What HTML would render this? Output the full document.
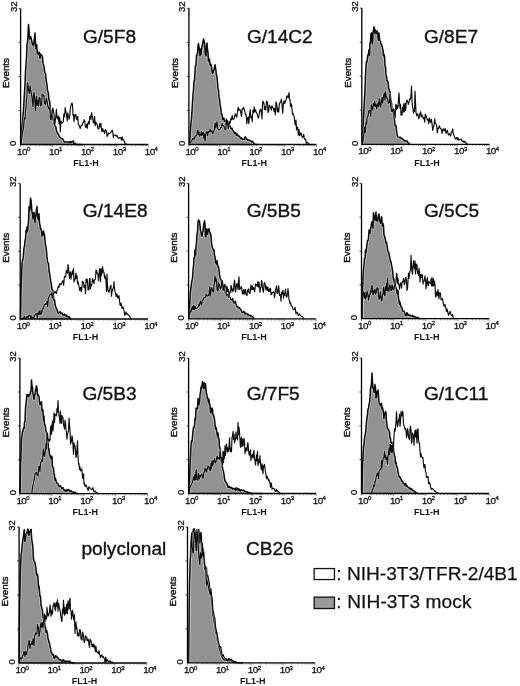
<!DOCTYPE html>
<html><head><meta charset="utf-8"><title>Figure</title>
<style>
html,body{margin:0;padding:0;background:#fff}
svg{display:block}
text{font-family:"Liberation Sans",Arial,sans-serif;fill:#111;stroke:#111;stroke-width:0.3px}
.tk{font-size:9.8px;letter-spacing:-0.5px}
.sup{font-size:6px;letter-spacing:0}
.fl{font-size:9px;font-weight:bold;stroke:none}
.yl{font-size:9.5px}
.ev{font-size:9.8px;stroke-width:0.4px}
.ti{font-size:19.1px;stroke-width:0.35px}
.lg{font-size:19.1px;stroke-width:0.25px}
</style></head><body>
<svg width="520" height="686" viewBox="0 0 520 686">
<rect width="520" height="686" fill="#fff"/>
<g>
<path d="M21.0 144.5 L21.5 134.1 L22.0 126.2 L22.5 122.5 L23.0 115.1 L23.5 110.1 L24.0 100.9 L24.5 91.4 L25.0 85.4 L25.5 71.1 L26.0 64.7 L26.5 56.9 L27.0 44.0 L27.5 42.3 L28.0 34.3 L28.5 24.6 L29.0 29.4 L29.5 39.0 L30.2 36.7 L30.8 36.8 L31.5 39.7 L32.2 43.0 L32.8 44.8 L33.5 45.6 L34.0 41.2 L34.5 37.7 L35.0 33.1 L35.5 44.0 L36.0 48.7 L36.7 44.6 L37.3 54.0 L38.0 52.0 L38.7 54.6 L39.3 52.4 L40.0 58.5 L40.7 54.1 L41.3 55.0 L42.0 55.8 L42.5 56.7 L43.0 63.9 L43.5 64.7 L44.2 67.7 L44.8 72.8 L45.5 73.4 L46.0 78.6 L46.5 82.1 L47.0 85.1 L47.7 91.5 L48.3 92.5 L49.0 99.9 L49.7 101.6 L50.3 108.2 L51.0 111.0 L51.7 115.2 L52.3 115.0 L53.0 119.1 L53.6 120.2 L54.1 124.2 L54.7 125.0 L55.2 126.1 L55.9 126.9 L56.5 130.7 L57.1 132.2 L57.8 134.1 L58.4 134.1 L59.0 135.9 L59.6 136.8 L60.2 137.3 L60.9 138.0 L61.5 138.6 L62.1 138.7 L62.8 139.0 L63.4 140.1 L64.0 141.1 L64.6 142.0 L65.2 141.9 L65.9 142.1 L66.5 142.0 L67.1 142.1 L67.8 142.0 L68.4 142.5 L69.0 142.5 L69.6 141.9 L70.2 141.5 L70.9 142.7 L71.5 141.6 L72.1 141.8 L72.8 141.2 L73.4 141.0 L74.0 143.4 L74.6 143.5 L75.2 143.4 L75.9 144.1 L76.5 144.5 L77.1 144.5 L77.8 144.5 L78.4 144.5 L79.0 144.5 L79.6 144.5 L80.2 144.5 L80.9 144.5 L81.5 144.5 Z" fill="#929292"/>
<path d="M21.0 144.5 L21.5 134.1 L22.0 126.2 L22.5 122.5 L23.0 115.1 L23.5 110.1 L24.0 100.9 L24.5 91.4 L25.0 85.4 L25.5 71.1 L26.0 64.7 L26.5 56.9 L27.0 44.0 L27.5 42.3 L28.0 34.3 L28.5 24.6 L29.0 29.4 L29.5 39.0 L30.2 36.7 L30.8 36.8 L31.5 39.7 L32.2 43.0 L32.8 44.8 L33.5 45.6 L34.0 41.2 L34.5 37.7 L35.0 33.1 L35.5 44.0 L36.0 48.7 L36.7 44.6 L37.3 54.0 L38.0 52.0 L38.7 54.6 L39.3 52.4 L40.0 58.5 L40.7 54.1 L41.3 55.0 L42.0 55.8 L42.5 56.7 L43.0 63.9 L43.5 64.7 L44.2 67.7 L44.8 72.8 L45.5 73.4 L46.0 78.6 L46.5 82.1 L47.0 85.1 L47.7 91.5 L48.3 92.5 L49.0 99.9 L49.7 101.6 L50.3 108.2 L51.0 111.0 L51.7 115.2 L52.3 115.0 L53.0 119.1 L53.6 120.2 L54.1 124.2 L54.7 125.0 L55.2 126.1 L55.9 126.9 L56.5 130.7 L57.1 132.2 L57.8 134.1 L58.4 134.1 L59.0 135.9 L59.6 136.8 L60.2 137.3 L60.9 138.0 L61.5 138.6 L62.1 138.7 L62.8 139.0 L63.4 140.1 L64.0 141.1 L64.6 142.0 L65.2 141.9 L65.9 142.1 L66.5 142.0 L67.1 142.1 L67.8 142.0 L68.4 142.5 L69.0 142.5 L69.6 141.9 L70.2 141.5 L70.9 142.7 L71.5 141.6 L72.1 141.8 L72.8 141.2 L73.4 141.0 L74.0 143.4 L74.6 143.5 L75.2 143.4 L75.9 144.1 L76.5 144.5 L77.1 144.5 L77.8 144.5 L78.4 144.5 L79.0 144.5 L79.6 144.5 L80.2 144.5 L80.9 144.5 L81.5 144.5" fill="none" stroke="#fff" stroke-opacity="0.4" stroke-width="3.2" stroke-linejoin="round"/>
<path d="M21.0 144.5 L21.5 134.1 L22.0 126.2 L22.5 122.5 L23.0 115.1 L23.5 110.1 L24.0 100.9 L24.5 91.4 L25.0 85.4 L25.5 71.1 L26.0 64.7 L26.5 56.9 L27.0 44.0 L27.5 42.3 L28.0 34.3 L28.5 24.6 L29.0 29.4 L29.5 39.0 L30.2 36.7 L30.8 36.8 L31.5 39.7 L32.2 43.0 L32.8 44.8 L33.5 45.6 L34.0 41.2 L34.5 37.7 L35.0 33.1 L35.5 44.0 L36.0 48.7 L36.7 44.6 L37.3 54.0 L38.0 52.0 L38.7 54.6 L39.3 52.4 L40.0 58.5 L40.7 54.1 L41.3 55.0 L42.0 55.8 L42.5 56.7 L43.0 63.9 L43.5 64.7 L44.2 67.7 L44.8 72.8 L45.5 73.4 L46.0 78.6 L46.5 82.1 L47.0 85.1 L47.7 91.5 L48.3 92.5 L49.0 99.9 L49.7 101.6 L50.3 108.2 L51.0 111.0 L51.7 115.2 L52.3 115.0 L53.0 119.1 L53.6 120.2 L54.1 124.2 L54.7 125.0 L55.2 126.1 L55.9 126.9 L56.5 130.7 L57.1 132.2 L57.8 134.1 L58.4 134.1 L59.0 135.9 L59.6 136.8 L60.2 137.3 L60.9 138.0 L61.5 138.6 L62.1 138.7 L62.8 139.0 L63.4 140.1 L64.0 141.1 L64.6 142.0 L65.2 141.9 L65.9 142.1 L66.5 142.0 L67.1 142.1 L67.8 142.0 L68.4 142.5 L69.0 142.5 L69.6 141.9 L70.2 141.5 L70.9 142.7 L71.5 141.6 L72.1 141.8 L72.8 141.2 L73.4 141.0 L74.0 143.4 L74.6 143.5 L75.2 143.4 L75.9 144.1 L76.5 144.5 L77.1 144.5 L77.8 144.5 L78.4 144.5 L79.0 144.5 L79.6 144.5 L80.2 144.5 L80.9 144.5 L81.5 144.5" fill="none" stroke="#0c0c0c" stroke-width="1.50" stroke-linejoin="round"/>
<path d="M21.0 144.5 L21.5 141.0 L22.0 135.6 L22.5 133.4 L23.0 130.3 L23.5 128.4 L24.0 121.8 L24.5 117.9 L25.0 119.2 L25.5 110.0 L26.0 108.0 L26.5 100.2 L27.0 93.4 L27.5 82.5 L28.0 85.7 L28.5 89.7 L29.0 92.3 L29.5 93.6 L30.0 85.8 L30.5 90.2 L31.0 90.8 L31.5 94.7 L32.0 97.4 L32.5 102.1 L33.0 106.5 L33.5 95.1 L34.0 92.3 L34.5 97.5 L35.0 102.6 L35.5 110.9 L36.0 100.8 L36.5 96.2 L37.2 105.4 L37.8 100.6 L38.5 106.2 L39.0 98.5 L39.5 97.3 L40.0 98.4 L40.5 105.9 L41.0 105.0 L41.5 105.2 L42.2 94.1 L42.8 95.8 L43.5 95.0 L44.0 96.1 L44.5 103.5 L45.0 103.0 L45.5 105.2 L46.0 100.5 L46.5 98.0 L47.2 101.9 L47.8 106.1 L48.5 108.4 L49.0 107.1 L49.5 109.7 L50.0 110.5 L50.5 119.3 L51.0 119.9 L51.5 115.8 L52.2 112.6 L52.8 108.1 L53.5 111.2 L54.1 115.1 L54.7 125.0 L55.2 121.3 L55.8 116.8 L56.4 109.4 L57.0 117.7 L57.7 119.1 L58.3 115.9 L59.0 123.7 L59.7 117.3 L60.3 132.0 L61.0 121.0 L61.6 123.2 L62.2 122.6 L62.8 122.6 L63.3 121.4 L63.9 113.8 L64.5 116.7 L65.2 107.6 L65.8 111.1 L66.5 115.0 L67.2 121.0 L67.8 112.8 L68.5 116.7 L69.1 119.1 L69.7 116.6 L70.2 109.7 L70.8 106.2 L71.4 104.1 L72.0 103.0 L72.5 105.0 L73.0 115.3 L73.5 114.4 L74.1 121.7 L74.7 114.9 L75.2 115.8 L75.8 114.4 L76.4 118.9 L77.0 119.6 L77.7 116.3 L78.3 124.8 L79.0 125.0 L79.6 126.6 L80.2 128.6 L80.9 126.1 L81.5 125.3 L82.2 125.4 L82.8 123.2 L83.5 122.3 L84.1 119.5 L84.8 121.2 L85.4 126.3 L86.0 127.4 L86.6 124.3 L87.2 128.3 L87.9 123.1 L88.5 121.6 L89.2 124.1 L89.8 116.7 L90.5 116.2 L91.0 119.4 L91.5 112.7 L92.0 115.2 L92.7 117.6 L93.3 122.6 L94.0 123.1 L94.6 116.6 L95.2 125.6 L95.9 122.2 L96.5 124.0 L97.1 124.1 L97.8 128.1 L98.4 129.1 L99.0 128.2 L99.6 123.5 L100.2 127.0 L100.9 123.1 L101.5 129.7 L102.1 131.5 L102.8 128.5 L103.4 131.3 L104.0 131.2 L104.6 133.7 L105.2 129.7 L105.9 130.0 L106.5 131.6 L107.1 136.5 L107.8 135.3 L108.4 132.9 L109.0 133.7 L109.6 133.4 L110.2 133.3 L110.9 132.1 L111.5 132.0 L112.1 130.1 L112.8 132.1 L113.4 137.6 L114.0 135.1 L114.6 135.2 L115.2 135.0 L115.9 135.8 L116.5 136.2 L117.1 135.4 L117.8 137.6 L118.4 138.3 L119.0 138.1 L119.6 137.6 L120.2 137.6 L120.9 137.9 L121.5 140.2 L122.1 136.8 L122.8 140.0 L123.4 139.9 L124.0 140.7 L124.6 142.0 L125.2 143.7 L125.9 143.7 L126.5 144.5 L127.1 144.5 L127.8 144.5 L128.4 144.5 L129.0 144.5" fill="none" stroke="#fff" stroke-opacity="0.4" stroke-width="2.6" stroke-linejoin="round"/>
<path d="M21.0 144.5 L21.5 141.0 L22.0 135.6 L22.5 133.4 L23.0 130.3 L23.5 128.4 L24.0 121.8 L24.5 117.9 L25.0 119.2 L25.5 110.0 L26.0 108.0 L26.5 100.2 L27.0 93.4 L27.5 82.5 L28.0 85.7 L28.5 89.7 L29.0 92.3 L29.5 93.6 L30.0 85.8 L30.5 90.2 L31.0 90.8 L31.5 94.7 L32.0 97.4 L32.5 102.1 L33.0 106.5 L33.5 95.1 L34.0 92.3 L34.5 97.5 L35.0 102.6 L35.5 110.9 L36.0 100.8 L36.5 96.2 L37.2 105.4 L37.8 100.6 L38.5 106.2 L39.0 98.5 L39.5 97.3 L40.0 98.4 L40.5 105.9 L41.0 105.0 L41.5 105.2 L42.2 94.1 L42.8 95.8 L43.5 95.0 L44.0 96.1 L44.5 103.5 L45.0 103.0 L45.5 105.2 L46.0 100.5 L46.5 98.0 L47.2 101.9 L47.8 106.1 L48.5 108.4 L49.0 107.1 L49.5 109.7 L50.0 110.5 L50.5 119.3 L51.0 119.9 L51.5 115.8 L52.2 112.6 L52.8 108.1 L53.5 111.2 L54.1 115.1 L54.7 125.0 L55.2 121.3 L55.8 116.8 L56.4 109.4 L57.0 117.7 L57.7 119.1 L58.3 115.9 L59.0 123.7 L59.7 117.3 L60.3 132.0 L61.0 121.0 L61.6 123.2 L62.2 122.6 L62.8 122.6 L63.3 121.4 L63.9 113.8 L64.5 116.7 L65.2 107.6 L65.8 111.1 L66.5 115.0 L67.2 121.0 L67.8 112.8 L68.5 116.7 L69.1 119.1 L69.7 116.6 L70.2 109.7 L70.8 106.2 L71.4 104.1 L72.0 103.0 L72.5 105.0 L73.0 115.3 L73.5 114.4 L74.1 121.7 L74.7 114.9 L75.2 115.8 L75.8 114.4 L76.4 118.9 L77.0 119.6 L77.7 116.3 L78.3 124.8 L79.0 125.0 L79.6 126.6 L80.2 128.6 L80.9 126.1 L81.5 125.3 L82.2 125.4 L82.8 123.2 L83.5 122.3 L84.1 119.5 L84.8 121.2 L85.4 126.3 L86.0 127.4 L86.6 124.3 L87.2 128.3 L87.9 123.1 L88.5 121.6 L89.2 124.1 L89.8 116.7 L90.5 116.2 L91.0 119.4 L91.5 112.7 L92.0 115.2 L92.7 117.6 L93.3 122.6 L94.0 123.1 L94.6 116.6 L95.2 125.6 L95.9 122.2 L96.5 124.0 L97.1 124.1 L97.8 128.1 L98.4 129.1 L99.0 128.2 L99.6 123.5 L100.2 127.0 L100.9 123.1 L101.5 129.7 L102.1 131.5 L102.8 128.5 L103.4 131.3 L104.0 131.2 L104.6 133.7 L105.2 129.7 L105.9 130.0 L106.5 131.6 L107.1 136.5 L107.8 135.3 L108.4 132.9 L109.0 133.7 L109.6 133.4 L110.2 133.3 L110.9 132.1 L111.5 132.0 L112.1 130.1 L112.8 132.1 L113.4 137.6 L114.0 135.1 L114.6 135.2 L115.2 135.0 L115.9 135.8 L116.5 136.2 L117.1 135.4 L117.8 137.6 L118.4 138.3 L119.0 138.1 L119.6 137.6 L120.2 137.6 L120.9 137.9 L121.5 140.2 L122.1 136.8 L122.8 140.0 L123.4 139.9 L124.0 140.7 L124.6 142.0 L125.2 143.7 L125.9 143.7 L126.5 144.5 L127.1 144.5 L127.8 144.5 L128.4 144.5 L129.0 144.5" fill="none" stroke="#0c0c0c" stroke-width="1.15" stroke-linejoin="round"/>
<path d="M20.6 8.4 V144.5 H148.2" fill="none" stroke="#000" stroke-width="1.3"/>
<path d="M20.6 8.4 h-2M20.6 42.4 h-2M20.6 76.5 h-2M20.6 110.5 h-2" stroke="#111" stroke-width="0.8"/>
<path d="M30.2 144.9 v1.3M35.8 144.9 v1.3M39.8 144.9 v1.3M42.9 144.9 v1.3M45.4 144.9 v1.3M47.6 144.9 v1.3M49.4 144.9 v1.3M51.0 144.9 v1.3M62.1 144.9 v1.3M67.7 144.9 v1.3M71.7 144.9 v1.3M74.8 144.9 v1.3M77.3 144.9 v1.3M79.5 144.9 v1.3M81.3 144.9 v1.3M82.9 144.9 v1.3M94.0 144.9 v1.3M99.6 144.9 v1.3M103.6 144.9 v1.3M106.7 144.9 v1.3M109.2 144.9 v1.3M111.4 144.9 v1.3M113.2 144.9 v1.3M114.8 144.9 v1.3M125.9 144.9 v1.3M131.5 144.9 v1.3M135.5 144.9 v1.3M138.6 144.9 v1.3M141.1 144.9 v1.3M143.3 144.9 v1.3M145.1 144.9 v1.3M146.7 144.9 v1.3M20.6 144.9 v2M52.5 144.9 v2M84.4 144.9 v2M116.3 144.9 v2M148.2 144.9 v2" stroke="#222" stroke-width="0.5"/>
<text x="17.1" y="154.6" class="tk">10<tspan dx="0" dy="-3.4" class="sup">0</tspan></text>
<text x="49.0" y="154.6" class="tk">10<tspan dx="0" dy="-3.4" class="sup">1</tspan></text>
<text x="80.9" y="154.6" class="tk">10<tspan dx="0" dy="-3.4" class="sup">2</tspan></text>
<text x="112.8" y="154.6" class="tk">10<tspan dx="0" dy="-3.4" class="sup">3</tspan></text>
<text x="144.7" y="154.6" class="tk">10<tspan dx="0" dy="-3.4" class="sup">4</tspan></text>
<text x="85.9" y="165.7" class="fl" text-anchor="middle">FL1-H</text>
<text transform="translate(16.6 12.1) rotate(-90)" class="yl">32</text>
<text transform="translate(16.3 146.1) rotate(-90)" class="yl">0</text>
<text transform="translate(9.4 73.0) rotate(-90)" class="ev" text-anchor="middle">Events</text>
<text x="82.95" y="42.8" class="ti">G/5F8</text>
</g>
<g>
<path d="M189.5 144.5 L190.0 136.4 L190.5 128.2 L191.0 122.5 L191.5 118.4 L192.0 110.7 L192.5 102.0 L193.0 94.9 L193.5 90.1 L194.0 80.9 L194.5 80.5 L195.0 71.3 L195.5 65.3 L196.0 65.3 L196.5 55.3 L197.0 55.4 L197.5 52.7 L198.0 45.5 L198.5 43.6 L199.0 46.9 L199.5 52.0 L200.0 55.8 L200.5 48.9 L201.0 54.6 L201.5 49.4 L202.0 46.4 L202.5 44.1 L203.0 41.8 L203.5 38.9 L204.0 40.7 L204.5 42.9 L205.0 50.3 L205.5 55.0 L206.0 55.9 L206.5 45.6 L207.0 43.1 L207.5 49.7 L208.0 52.5 L208.5 61.6 L209.0 59.4 L209.5 59.0 L210.0 64.6 L210.5 65.5 L211.0 64.4 L211.5 67.0 L212.0 70.3 L212.5 73.5 L213.0 72.6 L213.5 70.1 L214.0 69.9 L214.5 66.9 L215.0 64.7 L215.5 67.5 L216.0 71.2 L216.5 75.5 L217.0 77.0 L217.5 82.2 L218.0 88.8 L218.5 89.9 L219.0 97.6 L219.5 98.5 L220.0 103.8 L220.5 106.6 L221.0 110.6 L221.5 114.3 L222.1 114.5 L222.7 119.5 L223.2 118.1 L223.8 117.8 L224.4 121.3 L225.0 120.4 L225.7 121.3 L226.3 124.0 L227.0 124.1 L227.7 120.5 L228.3 123.4 L229.0 123.2 L229.6 126.1 L230.2 126.1 L230.8 128.2 L231.4 128.8 L232.0 128.3 L232.6 130.1 L233.2 130.9 L233.9 131.5 L234.5 133.6 L235.1 132.6 L235.8 133.0 L236.4 135.2 L237.0 133.7 L237.6 134.9 L238.2 136.0 L238.9 136.2 L239.5 136.1 L240.1 137.3 L240.8 138.6 L241.4 137.8 L242.0 138.4 L242.6 139.6 L243.2 139.2 L243.9 139.3 L244.5 139.2 L245.1 136.7 L245.8 137.8 L246.4 138.5 L247.0 139.3 L247.6 140.3 L248.2 139.9 L248.9 139.9 L249.5 140.4 L250.1 140.6 L250.8 141.1 L251.4 141.7 L252.0 141.4 L252.6 141.5 L253.2 142.1 L253.9 143.3 L254.5 143.8 L255.1 144.2 L255.8 144.5 L256.4 144.5 L257.0 144.5 L257.6 144.5 L258.2 144.5 Z" fill="#929292"/>
<path d="M189.5 144.5 L190.0 136.4 L190.5 128.2 L191.0 122.5 L191.5 118.4 L192.0 110.7 L192.5 102.0 L193.0 94.9 L193.5 90.1 L194.0 80.9 L194.5 80.5 L195.0 71.3 L195.5 65.3 L196.0 65.3 L196.5 55.3 L197.0 55.4 L197.5 52.7 L198.0 45.5 L198.5 43.6 L199.0 46.9 L199.5 52.0 L200.0 55.8 L200.5 48.9 L201.0 54.6 L201.5 49.4 L202.0 46.4 L202.5 44.1 L203.0 41.8 L203.5 38.9 L204.0 40.7 L204.5 42.9 L205.0 50.3 L205.5 55.0 L206.0 55.9 L206.5 45.6 L207.0 43.1 L207.5 49.7 L208.0 52.5 L208.5 61.6 L209.0 59.4 L209.5 59.0 L210.0 64.6 L210.5 65.5 L211.0 64.4 L211.5 67.0 L212.0 70.3 L212.5 73.5 L213.0 72.6 L213.5 70.1 L214.0 69.9 L214.5 66.9 L215.0 64.7 L215.5 67.5 L216.0 71.2 L216.5 75.5 L217.0 77.0 L217.5 82.2 L218.0 88.8 L218.5 89.9 L219.0 97.6 L219.5 98.5 L220.0 103.8 L220.5 106.6 L221.0 110.6 L221.5 114.3 L222.1 114.5 L222.7 119.5 L223.2 118.1 L223.8 117.8 L224.4 121.3 L225.0 120.4 L225.7 121.3 L226.3 124.0 L227.0 124.1 L227.7 120.5 L228.3 123.4 L229.0 123.2 L229.6 126.1 L230.2 126.1 L230.8 128.2 L231.4 128.8 L232.0 128.3 L232.6 130.1 L233.2 130.9 L233.9 131.5 L234.5 133.6 L235.1 132.6 L235.8 133.0 L236.4 135.2 L237.0 133.7 L237.6 134.9 L238.2 136.0 L238.9 136.2 L239.5 136.1 L240.1 137.3 L240.8 138.6 L241.4 137.8 L242.0 138.4 L242.6 139.6 L243.2 139.2 L243.9 139.3 L244.5 139.2 L245.1 136.7 L245.8 137.8 L246.4 138.5 L247.0 139.3 L247.6 140.3 L248.2 139.9 L248.9 139.9 L249.5 140.4 L250.1 140.6 L250.8 141.1 L251.4 141.7 L252.0 141.4 L252.6 141.5 L253.2 142.1 L253.9 143.3 L254.5 143.8 L255.1 144.2 L255.8 144.5 L256.4 144.5 L257.0 144.5 L257.6 144.5 L258.2 144.5" fill="none" stroke="#fff" stroke-opacity="0.4" stroke-width="3.2" stroke-linejoin="round"/>
<path d="M189.5 144.5 L190.0 136.4 L190.5 128.2 L191.0 122.5 L191.5 118.4 L192.0 110.7 L192.5 102.0 L193.0 94.9 L193.5 90.1 L194.0 80.9 L194.5 80.5 L195.0 71.3 L195.5 65.3 L196.0 65.3 L196.5 55.3 L197.0 55.4 L197.5 52.7 L198.0 45.5 L198.5 43.6 L199.0 46.9 L199.5 52.0 L200.0 55.8 L200.5 48.9 L201.0 54.6 L201.5 49.4 L202.0 46.4 L202.5 44.1 L203.0 41.8 L203.5 38.9 L204.0 40.7 L204.5 42.9 L205.0 50.3 L205.5 55.0 L206.0 55.9 L206.5 45.6 L207.0 43.1 L207.5 49.7 L208.0 52.5 L208.5 61.6 L209.0 59.4 L209.5 59.0 L210.0 64.6 L210.5 65.5 L211.0 64.4 L211.5 67.0 L212.0 70.3 L212.5 73.5 L213.0 72.6 L213.5 70.1 L214.0 69.9 L214.5 66.9 L215.0 64.7 L215.5 67.5 L216.0 71.2 L216.5 75.5 L217.0 77.0 L217.5 82.2 L218.0 88.8 L218.5 89.9 L219.0 97.6 L219.5 98.5 L220.0 103.8 L220.5 106.6 L221.0 110.6 L221.5 114.3 L222.1 114.5 L222.7 119.5 L223.2 118.1 L223.8 117.8 L224.4 121.3 L225.0 120.4 L225.7 121.3 L226.3 124.0 L227.0 124.1 L227.7 120.5 L228.3 123.4 L229.0 123.2 L229.6 126.1 L230.2 126.1 L230.8 128.2 L231.4 128.8 L232.0 128.3 L232.6 130.1 L233.2 130.9 L233.9 131.5 L234.5 133.6 L235.1 132.6 L235.8 133.0 L236.4 135.2 L237.0 133.7 L237.6 134.9 L238.2 136.0 L238.9 136.2 L239.5 136.1 L240.1 137.3 L240.8 138.6 L241.4 137.8 L242.0 138.4 L242.6 139.6 L243.2 139.2 L243.9 139.3 L244.5 139.2 L245.1 136.7 L245.8 137.8 L246.4 138.5 L247.0 139.3 L247.6 140.3 L248.2 139.9 L248.9 139.9 L249.5 140.4 L250.1 140.6 L250.8 141.1 L251.4 141.7 L252.0 141.4 L252.6 141.5 L253.2 142.1 L253.9 143.3 L254.5 143.8 L255.1 144.2 L255.8 144.5 L256.4 144.5 L257.0 144.5 L257.6 144.5 L258.2 144.5" fill="none" stroke="#0c0c0c" stroke-width="1.50" stroke-linejoin="round"/>
<path d="M189.5 142.2 L190.1 142.7 L190.8 142.3 L191.4 140.9 L192.0 140.8 L192.6 138.5 L193.2 139.2 L193.9 137.9 L194.5 138.9 L195.1 136.2 L195.8 135.8 L196.4 135.6 L197.0 134.5 L197.5 130.4 L198.0 130.2 L198.5 134.5 L199.0 132.0 L199.5 136.3 L200.1 134.6 L200.8 135.2 L201.4 131.4 L202.0 135.3 L202.6 133.4 L203.2 132.2 L203.9 138.2 L204.5 134.0 L205.1 140.9 L205.8 133.8 L206.4 131.8 L207.0 132.3 L207.6 135.6 L208.2 131.6 L208.9 132.4 L209.5 131.4 L210.1 129.2 L210.8 131.9 L211.4 130.8 L212.0 131.3 L212.6 133.7 L213.2 132.6 L213.9 130.6 L214.5 129.0 L215.1 122.9 L215.8 128.0 L216.4 124.8 L217.0 121.7 L217.6 127.1 L218.2 129.7 L218.9 130.0 L219.5 129.5 L220.1 129.1 L220.8 127.5 L221.4 127.4 L222.0 123.5 L222.6 125.2 L223.2 125.5 L223.9 126.0 L224.5 128.0 L225.1 129.5 L225.8 130.0 L226.3 118.8 L226.9 124.7 L227.5 120.8 L228.2 128.9 L228.8 125.5 L229.5 121.8 L230.2 123.1 L230.8 118.5 L231.5 119.7 L232.2 115.4 L232.8 119.0 L233.5 119.6 L234.2 118.2 L234.8 115.3 L235.5 113.8 L236.2 116.4 L236.8 117.1 L237.5 112.2 L238.2 107.2 L238.8 110.5 L239.5 109.3 L240.2 109.9 L240.8 112.6 L241.5 116.5 L242.2 109.0 L242.8 109.3 L243.5 107.2 L244.2 109.2 L244.8 111.3 L245.5 114.8 L246.2 114.5 L246.8 123.7 L247.5 118.3 L248.2 116.9 L248.8 123.6 L249.5 114.7 L250.2 109.5 L250.8 117.8 L251.5 116.1 L252.2 121.7 L252.8 110.3 L253.5 112.8 L254.2 106.8 L254.8 112.2 L255.5 109.7 L256.2 112.4 L256.8 113.0 L257.5 115.3 L258.2 118.1 L258.8 116.9 L259.5 112.3 L260.2 109.4 L260.8 109.2 L261.5 113.8 L262.0 118.9 L262.5 104.2 L263.0 101.1 L263.5 102.3 L264.0 103.8 L264.5 109.7 L265.2 106.9 L265.8 110.2 L266.5 101.0 L267.0 102.7 L267.5 102.2 L268.0 112.5 L268.7 110.9 L269.3 105.1 L270.0 107.0 L270.7 107.1 L271.3 110.1 L272.0 105.6 L272.7 107.7 L273.3 107.7 L274.0 111.4 L274.7 108.5 L275.3 114.8 L276.0 101.9 L276.7 103.7 L277.3 111.9 L278.0 108.1 L278.7 112.1 L279.3 104.2 L280.0 102.5 L280.7 102.0 L281.3 99.1 L282.0 104.6 L282.7 113.1 L283.3 104.6 L284.0 100.7 L284.7 103.5 L285.3 101.4 L286.0 100.1 L286.7 96.5 L287.3 95.8 L288.0 97.6 L288.5 95.7 L289.0 92.6 L289.5 99.4 L290.0 99.5 L290.5 106.5 L291.0 105.0 L291.5 103.9 L292.0 108.9 L292.5 114.3 L293.0 113.3 L293.5 115.3 L294.0 116.0 L294.5 119.5 L295.0 123.9 L295.5 125.0 L296.0 120.0 L296.5 129.8 L297.0 127.2 L297.7 127.2 L298.3 135.1 L299.0 129.6 L299.7 135.6 L300.3 134.5 L301.0 132.7 L301.7 135.7 L302.3 137.4 L303.0 137.2 L303.7 134.3 L304.3 138.4 L305.0 139.7 L305.7 139.2 L306.3 143.5 L307.0 142.2 L307.6 142.5 L308.2 143.2 L308.9 143.6 L309.5 144.5 L310.1 144.5 L310.8 144.5 L311.4 144.5 L312.0 144.5" fill="none" stroke="#fff" stroke-opacity="0.4" stroke-width="2.6" stroke-linejoin="round"/>
<path d="M189.5 142.2 L190.1 142.7 L190.8 142.3 L191.4 140.9 L192.0 140.8 L192.6 138.5 L193.2 139.2 L193.9 137.9 L194.5 138.9 L195.1 136.2 L195.8 135.8 L196.4 135.6 L197.0 134.5 L197.5 130.4 L198.0 130.2 L198.5 134.5 L199.0 132.0 L199.5 136.3 L200.1 134.6 L200.8 135.2 L201.4 131.4 L202.0 135.3 L202.6 133.4 L203.2 132.2 L203.9 138.2 L204.5 134.0 L205.1 140.9 L205.8 133.8 L206.4 131.8 L207.0 132.3 L207.6 135.6 L208.2 131.6 L208.9 132.4 L209.5 131.4 L210.1 129.2 L210.8 131.9 L211.4 130.8 L212.0 131.3 L212.6 133.7 L213.2 132.6 L213.9 130.6 L214.5 129.0 L215.1 122.9 L215.8 128.0 L216.4 124.8 L217.0 121.7 L217.6 127.1 L218.2 129.7 L218.9 130.0 L219.5 129.5 L220.1 129.1 L220.8 127.5 L221.4 127.4 L222.0 123.5 L222.6 125.2 L223.2 125.5 L223.9 126.0 L224.5 128.0 L225.1 129.5 L225.8 130.0 L226.3 118.8 L226.9 124.7 L227.5 120.8 L228.2 128.9 L228.8 125.5 L229.5 121.8 L230.2 123.1 L230.8 118.5 L231.5 119.7 L232.2 115.4 L232.8 119.0 L233.5 119.6 L234.2 118.2 L234.8 115.3 L235.5 113.8 L236.2 116.4 L236.8 117.1 L237.5 112.2 L238.2 107.2 L238.8 110.5 L239.5 109.3 L240.2 109.9 L240.8 112.6 L241.5 116.5 L242.2 109.0 L242.8 109.3 L243.5 107.2 L244.2 109.2 L244.8 111.3 L245.5 114.8 L246.2 114.5 L246.8 123.7 L247.5 118.3 L248.2 116.9 L248.8 123.6 L249.5 114.7 L250.2 109.5 L250.8 117.8 L251.5 116.1 L252.2 121.7 L252.8 110.3 L253.5 112.8 L254.2 106.8 L254.8 112.2 L255.5 109.7 L256.2 112.4 L256.8 113.0 L257.5 115.3 L258.2 118.1 L258.8 116.9 L259.5 112.3 L260.2 109.4 L260.8 109.2 L261.5 113.8 L262.0 118.9 L262.5 104.2 L263.0 101.1 L263.5 102.3 L264.0 103.8 L264.5 109.7 L265.2 106.9 L265.8 110.2 L266.5 101.0 L267.0 102.7 L267.5 102.2 L268.0 112.5 L268.7 110.9 L269.3 105.1 L270.0 107.0 L270.7 107.1 L271.3 110.1 L272.0 105.6 L272.7 107.7 L273.3 107.7 L274.0 111.4 L274.7 108.5 L275.3 114.8 L276.0 101.9 L276.7 103.7 L277.3 111.9 L278.0 108.1 L278.7 112.1 L279.3 104.2 L280.0 102.5 L280.7 102.0 L281.3 99.1 L282.0 104.6 L282.7 113.1 L283.3 104.6 L284.0 100.7 L284.7 103.5 L285.3 101.4 L286.0 100.1 L286.7 96.5 L287.3 95.8 L288.0 97.6 L288.5 95.7 L289.0 92.6 L289.5 99.4 L290.0 99.5 L290.5 106.5 L291.0 105.0 L291.5 103.9 L292.0 108.9 L292.5 114.3 L293.0 113.3 L293.5 115.3 L294.0 116.0 L294.5 119.5 L295.0 123.9 L295.5 125.0 L296.0 120.0 L296.5 129.8 L297.0 127.2 L297.7 127.2 L298.3 135.1 L299.0 129.6 L299.7 135.6 L300.3 134.5 L301.0 132.7 L301.7 135.7 L302.3 137.4 L303.0 137.2 L303.7 134.3 L304.3 138.4 L305.0 139.7 L305.7 139.2 L306.3 143.5 L307.0 142.2 L307.6 142.5 L308.2 143.2 L308.9 143.6 L309.5 144.5 L310.1 144.5 L310.8 144.5 L311.4 144.5 L312.0 144.5" fill="none" stroke="#0c0c0c" stroke-width="1.15" stroke-linejoin="round"/>
<path d="M188.9 8.3 V144.5 H316.5" fill="none" stroke="#000" stroke-width="1.3"/>
<path d="M188.9 8.3 h-2M188.9 42.3 h-2M188.9 76.4 h-2M188.9 110.4 h-2" stroke="#111" stroke-width="0.8"/>
<path d="M198.5 144.9 v1.3M204.1 144.9 v1.3M208.1 144.9 v1.3M211.2 144.9 v1.3M213.7 144.9 v1.3M215.9 144.9 v1.3M217.7 144.9 v1.3M219.3 144.9 v1.3M230.4 144.9 v1.3M236.0 144.9 v1.3M240.0 144.9 v1.3M243.1 144.9 v1.3M245.6 144.9 v1.3M247.8 144.9 v1.3M249.6 144.9 v1.3M251.2 144.9 v1.3M262.3 144.9 v1.3M267.9 144.9 v1.3M271.9 144.9 v1.3M275.0 144.9 v1.3M277.5 144.9 v1.3M279.7 144.9 v1.3M281.5 144.9 v1.3M283.1 144.9 v1.3M294.2 144.9 v1.3M299.8 144.9 v1.3M303.8 144.9 v1.3M306.9 144.9 v1.3M309.4 144.9 v1.3M311.6 144.9 v1.3M313.4 144.9 v1.3M315.0 144.9 v1.3M188.9 144.9 v2M220.8 144.9 v2M252.7 144.9 v2M284.6 144.9 v2M316.5 144.9 v2" stroke="#222" stroke-width="0.5"/>
<text x="185.4" y="154.6" class="tk">10<tspan dx="0" dy="-3.4" class="sup">0</tspan></text>
<text x="217.3" y="154.6" class="tk">10<tspan dx="0" dy="-3.4" class="sup">1</tspan></text>
<text x="249.2" y="154.6" class="tk">10<tspan dx="0" dy="-3.4" class="sup">2</tspan></text>
<text x="281.1" y="154.6" class="tk">10<tspan dx="0" dy="-3.4" class="sup">3</tspan></text>
<text x="313.0" y="154.6" class="tk">10<tspan dx="0" dy="-3.4" class="sup">4</tspan></text>
<text x="254.2" y="165.7" class="fl" text-anchor="middle">FL1-H</text>
<text transform="translate(184.9 12.0) rotate(-90)" class="yl">32</text>
<text transform="translate(184.6 146.1) rotate(-90)" class="yl">0</text>
<text transform="translate(177.7 73.0) rotate(-90)" class="ev" text-anchor="middle">Events</text>
<text x="246.95" y="42.8" class="ti">G/14C2</text>
</g>
<g>
<path d="M362.5 144.3 L363.0 129.2 L363.5 116.1 L364.0 108.3 L364.5 98.2 L365.0 90.9 L365.5 74.9 L366.0 66.5 L366.5 61.3 L367.0 61.6 L367.5 57.6 L368.0 54.5 L368.5 54.2 L369.0 49.7 L369.5 55.4 L370.0 44.2 L370.5 40.9 L371.0 33.6 L371.5 32.9 L372.0 41.8 L372.5 43.8 L373.0 33.1 L373.5 30.1 L374.0 26.8 L374.5 28.6 L375.0 33.4 L375.5 30.3 L376.0 31.3 L376.5 33.5 L377.0 30.9 L377.5 32.7 L378.0 35.6 L378.5 40.3 L379.0 33.0 L379.5 38.9 L380.0 40.5 L380.5 41.4 L381.0 44.7 L381.5 44.1 L382.0 45.8 L382.5 48.1 L383.0 49.9 L383.5 55.8 L384.0 54.3 L384.5 55.8 L385.0 65.6 L385.5 67.1 L386.0 74.9 L386.5 76.2 L387.0 80.8 L387.5 80.8 L388.0 81.8 L388.5 87.1 L389.0 89.0 L389.5 91.4 L390.0 91.4 L390.5 97.8 L391.0 100.5 L391.5 102.9 L392.0 108.4 L392.5 111.2 L393.0 111.9 L393.5 113.1 L394.0 117.1 L394.5 120.1 L395.0 125.1 L395.5 126.0 L396.0 125.6 L396.5 130.0 L397.0 133.7 L397.6 136.4 L398.2 137.1 L398.8 137.4 L399.4 137.7 L400.0 137.0 L400.6 137.8 L401.2 138.4 L401.9 138.2 L402.5 139.2 L403.1 139.2 L403.8 139.8 L404.4 141.0 L405.0 140.8 L405.6 140.9 L406.2 141.0 L406.9 140.7 L407.5 142.0 L408.1 142.9 L408.8 142.9 L409.4 144.0 L410.0 144.3 Z" fill="#929292"/>
<path d="M362.5 144.3 L363.0 129.2 L363.5 116.1 L364.0 108.3 L364.5 98.2 L365.0 90.9 L365.5 74.9 L366.0 66.5 L366.5 61.3 L367.0 61.6 L367.5 57.6 L368.0 54.5 L368.5 54.2 L369.0 49.7 L369.5 55.4 L370.0 44.2 L370.5 40.9 L371.0 33.6 L371.5 32.9 L372.0 41.8 L372.5 43.8 L373.0 33.1 L373.5 30.1 L374.0 26.8 L374.5 28.6 L375.0 33.4 L375.5 30.3 L376.0 31.3 L376.5 33.5 L377.0 30.9 L377.5 32.7 L378.0 35.6 L378.5 40.3 L379.0 33.0 L379.5 38.9 L380.0 40.5 L380.5 41.4 L381.0 44.7 L381.5 44.1 L382.0 45.8 L382.5 48.1 L383.0 49.9 L383.5 55.8 L384.0 54.3 L384.5 55.8 L385.0 65.6 L385.5 67.1 L386.0 74.9 L386.5 76.2 L387.0 80.8 L387.5 80.8 L388.0 81.8 L388.5 87.1 L389.0 89.0 L389.5 91.4 L390.0 91.4 L390.5 97.8 L391.0 100.5 L391.5 102.9 L392.0 108.4 L392.5 111.2 L393.0 111.9 L393.5 113.1 L394.0 117.1 L394.5 120.1 L395.0 125.1 L395.5 126.0 L396.0 125.6 L396.5 130.0 L397.0 133.7 L397.6 136.4 L398.2 137.1 L398.8 137.4 L399.4 137.7 L400.0 137.0 L400.6 137.8 L401.2 138.4 L401.9 138.2 L402.5 139.2 L403.1 139.2 L403.8 139.8 L404.4 141.0 L405.0 140.8 L405.6 140.9 L406.2 141.0 L406.9 140.7 L407.5 142.0 L408.1 142.9 L408.8 142.9 L409.4 144.0 L410.0 144.3" fill="none" stroke="#fff" stroke-opacity="0.4" stroke-width="3.2" stroke-linejoin="round"/>
<path d="M362.5 144.3 L363.0 129.2 L363.5 116.1 L364.0 108.3 L364.5 98.2 L365.0 90.9 L365.5 74.9 L366.0 66.5 L366.5 61.3 L367.0 61.6 L367.5 57.6 L368.0 54.5 L368.5 54.2 L369.0 49.7 L369.5 55.4 L370.0 44.2 L370.5 40.9 L371.0 33.6 L371.5 32.9 L372.0 41.8 L372.5 43.8 L373.0 33.1 L373.5 30.1 L374.0 26.8 L374.5 28.6 L375.0 33.4 L375.5 30.3 L376.0 31.3 L376.5 33.5 L377.0 30.9 L377.5 32.7 L378.0 35.6 L378.5 40.3 L379.0 33.0 L379.5 38.9 L380.0 40.5 L380.5 41.4 L381.0 44.7 L381.5 44.1 L382.0 45.8 L382.5 48.1 L383.0 49.9 L383.5 55.8 L384.0 54.3 L384.5 55.8 L385.0 65.6 L385.5 67.1 L386.0 74.9 L386.5 76.2 L387.0 80.8 L387.5 80.8 L388.0 81.8 L388.5 87.1 L389.0 89.0 L389.5 91.4 L390.0 91.4 L390.5 97.8 L391.0 100.5 L391.5 102.9 L392.0 108.4 L392.5 111.2 L393.0 111.9 L393.5 113.1 L394.0 117.1 L394.5 120.1 L395.0 125.1 L395.5 126.0 L396.0 125.6 L396.5 130.0 L397.0 133.7 L397.6 136.4 L398.2 137.1 L398.8 137.4 L399.4 137.7 L400.0 137.0 L400.6 137.8 L401.2 138.4 L401.9 138.2 L402.5 139.2 L403.1 139.2 L403.8 139.8 L404.4 141.0 L405.0 140.8 L405.6 140.9 L406.2 141.0 L406.9 140.7 L407.5 142.0 L408.1 142.9 L408.8 142.9 L409.4 144.0 L410.0 144.3" fill="none" stroke="#0c0c0c" stroke-width="1.50" stroke-linejoin="round"/>
<path d="M362.5 144.3 L363.0 140.3 L363.5 137.7 L364.0 133.3 L364.7 127.1 L365.3 132.5 L366.0 122.3 L366.7 123.9 L367.3 116.7 L368.0 116.3 L368.7 111.0 L369.3 110.3 L370.0 111.0 L370.7 116.4 L371.3 104.8 L372.0 107.3 L372.7 110.2 L373.3 103.0 L374.0 105.8 L374.7 101.1 L375.3 106.4 L376.0 104.1 L376.7 108.9 L377.3 105.8 L378.0 103.0 L378.7 106.7 L379.3 98.5 L380.0 103.4 L380.7 107.5 L381.3 102.3 L382.0 97.6 L382.7 103.0 L383.3 97.6 L384.0 94.0 L384.5 93.1 L385.0 100.1 L385.5 91.8 L386.0 95.7 L386.5 96.6 L387.0 98.5 L387.7 99.2 L388.3 103.3 L389.0 102.6 L389.5 101.9 L390.0 94.2 L390.5 105.3 L391.2 108.5 L391.8 111.7 L392.5 111.5 L393.2 108.9 L393.8 109.2 L394.5 112.7 L395.2 117.7 L395.8 104.2 L396.5 109.4 L397.0 105.3 L397.5 108.7 L398.0 106.8 L398.5 98.5 L399.0 92.8 L399.5 101.8 L400.0 108.1 L400.5 104.3 L401.0 115.1 L401.5 112.8 L402.0 115.2 L402.5 107.0 L403.0 112.4 L403.7 103.8 L404.3 111.8 L405.0 103.4 L405.7 110.4 L406.3 101.9 L407.0 100.0 L407.7 101.7 L408.3 104.5 L409.0 102.1 L409.7 98.9 L410.3 99.7 L411.0 95.7 L411.5 86.0 L412.0 100.9 L412.5 106.6 L413.0 108.8 L413.5 113.2 L414.0 110.1 L414.5 111.4 L415.0 91.1 L415.5 101.7 L416.0 112.4 L416.7 115.8 L417.3 113.9 L418.0 114.0 L418.7 118.8 L419.3 117.1 L420.0 113.7 L420.7 111.7 L421.3 116.8 L422.0 114.9 L422.7 116.6 L423.3 118.6 L424.0 117.4 L424.7 122.2 L425.3 114.4 L426.0 115.5 L426.7 117.9 L427.3 120.2 L428.0 119.4 L428.7 123.8 L429.3 117.8 L430.0 121.1 L430.7 122.5 L431.3 119.1 L432.0 123.4 L432.7 130.4 L433.3 127.4 L434.0 125.5 L434.7 118.8 L435.3 123.1 L436.0 124.0 L436.7 125.8 L437.3 132.8 L438.0 128.0 L438.7 128.5 L439.3 125.6 L440.0 127.4 L440.7 128.8 L441.3 129.0 L442.0 133.5 L442.7 129.6 L443.3 128.7 L444.0 130.7 L444.7 130.8 L445.3 128.5 L446.0 133.3 L446.7 132.0 L447.3 130.2 L448.0 133.7 L448.7 134.9 L449.3 133.6 L450.0 135.2 L450.7 136.0 L451.3 132.1 L452.0 132.0 L452.7 128.9 L453.3 134.1 L454.0 135.6 L454.7 137.5 L455.3 139.0 L456.0 138.4 L456.7 137.7 L457.3 139.8 L458.0 137.7 L458.7 140.0 L459.3 139.9 L460.0 139.7 L460.6 139.5 L461.2 138.9 L461.9 140.9 L462.5 141.5 L463.1 140.9 L463.8 142.2 L464.4 141.3 L465.0 142.3 L465.6 142.0 L466.2 143.5 L466.9 143.7 L467.5 144.3" fill="none" stroke="#fff" stroke-opacity="0.4" stroke-width="2.6" stroke-linejoin="round"/>
<path d="M362.5 144.3 L363.0 140.3 L363.5 137.7 L364.0 133.3 L364.7 127.1 L365.3 132.5 L366.0 122.3 L366.7 123.9 L367.3 116.7 L368.0 116.3 L368.7 111.0 L369.3 110.3 L370.0 111.0 L370.7 116.4 L371.3 104.8 L372.0 107.3 L372.7 110.2 L373.3 103.0 L374.0 105.8 L374.7 101.1 L375.3 106.4 L376.0 104.1 L376.7 108.9 L377.3 105.8 L378.0 103.0 L378.7 106.7 L379.3 98.5 L380.0 103.4 L380.7 107.5 L381.3 102.3 L382.0 97.6 L382.7 103.0 L383.3 97.6 L384.0 94.0 L384.5 93.1 L385.0 100.1 L385.5 91.8 L386.0 95.7 L386.5 96.6 L387.0 98.5 L387.7 99.2 L388.3 103.3 L389.0 102.6 L389.5 101.9 L390.0 94.2 L390.5 105.3 L391.2 108.5 L391.8 111.7 L392.5 111.5 L393.2 108.9 L393.8 109.2 L394.5 112.7 L395.2 117.7 L395.8 104.2 L396.5 109.4 L397.0 105.3 L397.5 108.7 L398.0 106.8 L398.5 98.5 L399.0 92.8 L399.5 101.8 L400.0 108.1 L400.5 104.3 L401.0 115.1 L401.5 112.8 L402.0 115.2 L402.5 107.0 L403.0 112.4 L403.7 103.8 L404.3 111.8 L405.0 103.4 L405.7 110.4 L406.3 101.9 L407.0 100.0 L407.7 101.7 L408.3 104.5 L409.0 102.1 L409.7 98.9 L410.3 99.7 L411.0 95.7 L411.5 86.0 L412.0 100.9 L412.5 106.6 L413.0 108.8 L413.5 113.2 L414.0 110.1 L414.5 111.4 L415.0 91.1 L415.5 101.7 L416.0 112.4 L416.7 115.8 L417.3 113.9 L418.0 114.0 L418.7 118.8 L419.3 117.1 L420.0 113.7 L420.7 111.7 L421.3 116.8 L422.0 114.9 L422.7 116.6 L423.3 118.6 L424.0 117.4 L424.7 122.2 L425.3 114.4 L426.0 115.5 L426.7 117.9 L427.3 120.2 L428.0 119.4 L428.7 123.8 L429.3 117.8 L430.0 121.1 L430.7 122.5 L431.3 119.1 L432.0 123.4 L432.7 130.4 L433.3 127.4 L434.0 125.5 L434.7 118.8 L435.3 123.1 L436.0 124.0 L436.7 125.8 L437.3 132.8 L438.0 128.0 L438.7 128.5 L439.3 125.6 L440.0 127.4 L440.7 128.8 L441.3 129.0 L442.0 133.5 L442.7 129.6 L443.3 128.7 L444.0 130.7 L444.7 130.8 L445.3 128.5 L446.0 133.3 L446.7 132.0 L447.3 130.2 L448.0 133.7 L448.7 134.9 L449.3 133.6 L450.0 135.2 L450.7 136.0 L451.3 132.1 L452.0 132.0 L452.7 128.9 L453.3 134.1 L454.0 135.6 L454.7 137.5 L455.3 139.0 L456.0 138.4 L456.7 137.7 L457.3 139.8 L458.0 137.7 L458.7 140.0 L459.3 139.9 L460.0 139.7 L460.6 139.5 L461.2 138.9 L461.9 140.9 L462.5 141.5 L463.1 140.9 L463.8 142.2 L464.4 141.3 L465.0 142.3 L465.6 142.0 L466.2 143.5 L466.9 143.7 L467.5 144.3" fill="none" stroke="#0c0c0c" stroke-width="1.15" stroke-linejoin="round"/>
<path d="M361.8 8.1 V144.3 H489.4" fill="none" stroke="#000" stroke-width="1.3"/>
<path d="M361.8 8.1 h-2M361.8 42.2 h-2M361.8 76.2 h-2M361.8 110.2 h-2" stroke="#111" stroke-width="0.8"/>
<path d="M371.4 144.7 v1.3M377.0 144.7 v1.3M381.0 144.7 v1.3M384.1 144.7 v1.3M386.6 144.7 v1.3M388.8 144.7 v1.3M390.6 144.7 v1.3M392.2 144.7 v1.3M403.3 144.7 v1.3M408.9 144.7 v1.3M412.9 144.7 v1.3M416.0 144.7 v1.3M418.5 144.7 v1.3M420.7 144.7 v1.3M422.5 144.7 v1.3M424.1 144.7 v1.3M435.2 144.7 v1.3M440.8 144.7 v1.3M444.8 144.7 v1.3M447.9 144.7 v1.3M450.4 144.7 v1.3M452.6 144.7 v1.3M454.4 144.7 v1.3M456.0 144.7 v1.3M467.1 144.7 v1.3M472.7 144.7 v1.3M476.7 144.7 v1.3M479.8 144.7 v1.3M482.3 144.7 v1.3M484.5 144.7 v1.3M486.3 144.7 v1.3M487.9 144.7 v1.3M361.8 144.7 v2M393.7 144.7 v2M425.6 144.7 v2M457.5 144.7 v2M489.4 144.7 v2" stroke="#222" stroke-width="0.5"/>
<text x="358.3" y="154.4" class="tk">10<tspan dx="0" dy="-3.4" class="sup">0</tspan></text>
<text x="390.2" y="154.4" class="tk">10<tspan dx="0" dy="-3.4" class="sup">1</tspan></text>
<text x="422.1" y="154.4" class="tk">10<tspan dx="0" dy="-3.4" class="sup">2</tspan></text>
<text x="454.0" y="154.4" class="tk">10<tspan dx="0" dy="-3.4" class="sup">3</tspan></text>
<text x="485.9" y="154.4" class="tk">10<tspan dx="0" dy="-3.4" class="sup">4</tspan></text>
<text x="427.1" y="165.5" class="fl" text-anchor="middle">FL1-H</text>
<text transform="translate(357.8 11.8) rotate(-90)" class="yl">32</text>
<text transform="translate(357.5 145.9) rotate(-90)" class="yl">0</text>
<text transform="translate(350.6 72.8) rotate(-90)" class="ev" text-anchor="middle">Events</text>
<text x="423.95" y="42.8" class="ti">G/8E7</text>
</g>
<g>
<path d="M20.5 319.0 L21.0 290.2 L21.5 276.2 L22.0 264.0 L22.5 260.0 L23.0 259.3 L23.5 253.9 L24.0 247.5 L24.5 246.4 L25.0 240.8 L25.5 238.6 L26.0 230.5 L26.5 232.8 L27.0 227.1 L27.5 231.1 L28.0 225.9 L28.5 222.0 L29.0 206.7 L29.5 210.7 L30.0 208.6 L30.5 198.1 L31.0 199.9 L31.5 205.9 L32.0 212.3 L32.5 213.9 L33.0 218.9 L33.5 213.0 L34.0 212.4 L34.5 216.3 L35.0 222.7 L35.5 216.7 L36.0 214.3 L36.5 209.4 L37.0 206.5 L37.5 216.0 L38.0 218.4 L38.5 219.7 L39.0 213.7 L39.5 223.0 L40.0 225.0 L40.5 229.1 L41.0 228.9 L41.5 230.3 L42.0 236.1 L42.5 232.5 L43.0 234.8 L43.5 231.1 L44.0 232.7 L44.5 235.1 L45.0 240.3 L45.5 245.1 L46.0 246.5 L46.5 251.2 L47.0 256.9 L47.5 261.4 L48.0 263.1 L48.5 263.2 L49.0 270.5 L49.5 272.8 L50.0 276.4 L50.5 280.0 L51.0 282.3 L51.5 285.4 L52.0 289.2 L52.5 289.7 L53.0 291.0 L53.5 296.5 L54.0 300.1 L54.5 299.7 L55.0 303.3 L55.5 306.5 L56.0 307.3 L56.5 308.8 L57.0 309.6 L57.7 311.7 L58.3 313.2 L59.0 312.4 L59.6 312.0 L60.2 311.8 L60.9 313.6 L61.5 313.0 L62.1 312.9 L62.8 314.9 L63.4 315.0 L64.0 315.1 L64.6 314.1 L65.2 315.4 L65.9 316.0 L66.5 315.1 L67.1 316.6 L67.8 316.5 L68.4 317.2 L69.0 316.9 L69.6 317.4 L70.2 318.4 L70.9 318.8 L71.5 319.0 Z" fill="#929292"/>
<path d="M20.5 319.0 L21.0 290.2 L21.5 276.2 L22.0 264.0 L22.5 260.0 L23.0 259.3 L23.5 253.9 L24.0 247.5 L24.5 246.4 L25.0 240.8 L25.5 238.6 L26.0 230.5 L26.5 232.8 L27.0 227.1 L27.5 231.1 L28.0 225.9 L28.5 222.0 L29.0 206.7 L29.5 210.7 L30.0 208.6 L30.5 198.1 L31.0 199.9 L31.5 205.9 L32.0 212.3 L32.5 213.9 L33.0 218.9 L33.5 213.0 L34.0 212.4 L34.5 216.3 L35.0 222.7 L35.5 216.7 L36.0 214.3 L36.5 209.4 L37.0 206.5 L37.5 216.0 L38.0 218.4 L38.5 219.7 L39.0 213.7 L39.5 223.0 L40.0 225.0 L40.5 229.1 L41.0 228.9 L41.5 230.3 L42.0 236.1 L42.5 232.5 L43.0 234.8 L43.5 231.1 L44.0 232.7 L44.5 235.1 L45.0 240.3 L45.5 245.1 L46.0 246.5 L46.5 251.2 L47.0 256.9 L47.5 261.4 L48.0 263.1 L48.5 263.2 L49.0 270.5 L49.5 272.8 L50.0 276.4 L50.5 280.0 L51.0 282.3 L51.5 285.4 L52.0 289.2 L52.5 289.7 L53.0 291.0 L53.5 296.5 L54.0 300.1 L54.5 299.7 L55.0 303.3 L55.5 306.5 L56.0 307.3 L56.5 308.8 L57.0 309.6 L57.7 311.7 L58.3 313.2 L59.0 312.4 L59.6 312.0 L60.2 311.8 L60.9 313.6 L61.5 313.0 L62.1 312.9 L62.8 314.9 L63.4 315.0 L64.0 315.1 L64.6 314.1 L65.2 315.4 L65.9 316.0 L66.5 315.1 L67.1 316.6 L67.8 316.5 L68.4 317.2 L69.0 316.9 L69.6 317.4 L70.2 318.4 L70.9 318.8 L71.5 319.0" fill="none" stroke="#fff" stroke-opacity="0.4" stroke-width="3.2" stroke-linejoin="round"/>
<path d="M20.5 319.0 L21.0 290.2 L21.5 276.2 L22.0 264.0 L22.5 260.0 L23.0 259.3 L23.5 253.9 L24.0 247.5 L24.5 246.4 L25.0 240.8 L25.5 238.6 L26.0 230.5 L26.5 232.8 L27.0 227.1 L27.5 231.1 L28.0 225.9 L28.5 222.0 L29.0 206.7 L29.5 210.7 L30.0 208.6 L30.5 198.1 L31.0 199.9 L31.5 205.9 L32.0 212.3 L32.5 213.9 L33.0 218.9 L33.5 213.0 L34.0 212.4 L34.5 216.3 L35.0 222.7 L35.5 216.7 L36.0 214.3 L36.5 209.4 L37.0 206.5 L37.5 216.0 L38.0 218.4 L38.5 219.7 L39.0 213.7 L39.5 223.0 L40.0 225.0 L40.5 229.1 L41.0 228.9 L41.5 230.3 L42.0 236.1 L42.5 232.5 L43.0 234.8 L43.5 231.1 L44.0 232.7 L44.5 235.1 L45.0 240.3 L45.5 245.1 L46.0 246.5 L46.5 251.2 L47.0 256.9 L47.5 261.4 L48.0 263.1 L48.5 263.2 L49.0 270.5 L49.5 272.8 L50.0 276.4 L50.5 280.0 L51.0 282.3 L51.5 285.4 L52.0 289.2 L52.5 289.7 L53.0 291.0 L53.5 296.5 L54.0 300.1 L54.5 299.7 L55.0 303.3 L55.5 306.5 L56.0 307.3 L56.5 308.8 L57.0 309.6 L57.7 311.7 L58.3 313.2 L59.0 312.4 L59.6 312.0 L60.2 311.8 L60.9 313.6 L61.5 313.0 L62.1 312.9 L62.8 314.9 L63.4 315.0 L64.0 315.1 L64.6 314.1 L65.2 315.4 L65.9 316.0 L66.5 315.1 L67.1 316.6 L67.8 316.5 L68.4 317.2 L69.0 316.9 L69.6 317.4 L70.2 318.4 L70.9 318.8 L71.5 319.0" fill="none" stroke="#0c0c0c" stroke-width="1.50" stroke-linejoin="round"/>
<path d="M20.5 319.0 L21.2 318.8 L21.8 319.0 L22.5 319.0 L23.2 318.0 L23.8 317.6 L24.5 316.3 L25.2 318.1 L25.8 319.0 L26.5 316.9 L27.1 316.5 L27.8 317.4 L28.4 317.1 L29.0 315.3 L29.6 315.8 L30.2 315.3 L30.9 318.5 L31.5 316.0 L32.1 317.0 L32.7 318.1 L33.2 317.9 L33.8 317.2 L34.4 317.3 L35.0 314.4 L35.6 314.3 L36.2 313.5 L36.8 313.8 L37.4 317.8 L38.0 312.9 L38.6 314.1 L39.2 310.7 L39.8 314.5 L40.4 314.0 L41.0 310.9 L41.7 314.0 L42.3 308.9 L43.0 308.5 L43.7 307.4 L44.3 304.5 L45.0 304.7 L45.7 303.5 L46.3 304.1 L47.0 301.4 L47.7 306.7 L48.3 298.2 L49.0 297.0 L49.7 294.9 L50.3 294.3 L51.0 294.7 L51.7 292.8 L52.3 298.3 L53.0 295.1 L53.7 292.8 L54.3 292.9 L55.0 291.3 L55.7 292.6 L56.3 293.5 L57.0 290.6 L57.7 289.1 L58.3 286.0 L59.0 287.4 L59.7 283.6 L60.3 284.4 L61.0 284.8 L61.7 282.9 L62.3 281.5 L63.0 280.6 L63.7 285.3 L64.3 277.3 L65.0 276.0 L65.7 277.1 L66.3 270.3 L67.0 272.1 L67.5 273.3 L68.0 264.7 L68.5 266.2 L69.0 273.8 L69.5 278.3 L70.0 272.5 L70.5 272.0 L71.0 279.1 L71.5 274.6 L72.0 273.0 L72.5 270.7 L73.0 274.7 L73.5 268.3 L74.0 282.0 L74.5 279.8 L75.0 280.0 L75.5 276.1 L76.0 273.1 L76.5 278.1 L77.0 275.9 L77.5 283.8 L78.0 281.3 L78.5 284.2 L79.0 286.0 L79.5 289.9 L80.0 290.7 L80.5 287.5 L81.0 287.4 L81.5 291.7 L82.0 285.7 L82.5 281.4 L83.0 282.9 L83.5 282.0 L84.0 287.4 L84.5 285.1 L85.0 286.7 L85.5 293.7 L86.0 279.3 L86.5 282.4 L87.0 278.9 L87.5 281.2 L88.0 289.8 L88.5 287.3 L89.0 290.0 L89.5 278.5 L90.0 278.6 L90.5 288.6 L91.0 285.1 L91.5 285.6 L92.0 283.9 L92.5 278.8 L93.0 280.0 L93.5 281.4 L94.0 283.7 L94.5 279.8 L95.0 279.7 L95.5 278.4 L96.0 270.1 L96.5 270.5 L97.0 273.4 L97.5 273.0 L98.0 275.2 L98.5 280.6 L99.0 276.0 L99.5 268.9 L100.0 269.3 L100.5 281.8 L101.0 268.5 L101.5 275.3 L102.0 273.4 L102.5 266.7 L103.0 269.8 L103.5 272.4 L104.0 272.0 L104.5 278.2 L105.0 275.5 L105.5 277.5 L106.0 281.4 L106.5 291.5 L107.0 274.1 L107.5 284.3 L108.0 290.9 L108.5 290.6 L109.0 292.4 L109.5 290.4 L110.0 288.0 L110.5 286.1 L111.0 285.3 L111.5 296.1 L112.0 291.1 L112.5 290.8 L113.0 288.2 L113.5 287.8 L114.0 281.7 L114.5 289.1 L115.0 291.4 L115.5 293.0 L116.0 296.5 L116.5 294.8 L117.0 293.8 L117.5 297.6 L118.0 298.2 L118.5 296.1 L119.0 295.7 L119.5 300.3 L120.0 304.9 L120.5 305.5 L121.0 303.0 L121.5 305.3 L122.0 308.2 L122.5 308.5 L123.0 306.9 L123.5 308.7 L124.0 311.0 L124.7 315.3 L125.3 314.4 L126.0 311.8 L126.7 314.0 L127.3 313.7 L128.0 315.0 L128.7 314.9 L129.3 315.8 L130.0 317.0 L130.7 319.0 L131.3 318.7 L132.0 319.0" fill="none" stroke="#fff" stroke-opacity="0.4" stroke-width="2.6" stroke-linejoin="round"/>
<path d="M20.5 319.0 L21.2 318.8 L21.8 319.0 L22.5 319.0 L23.2 318.0 L23.8 317.6 L24.5 316.3 L25.2 318.1 L25.8 319.0 L26.5 316.9 L27.1 316.5 L27.8 317.4 L28.4 317.1 L29.0 315.3 L29.6 315.8 L30.2 315.3 L30.9 318.5 L31.5 316.0 L32.1 317.0 L32.7 318.1 L33.2 317.9 L33.8 317.2 L34.4 317.3 L35.0 314.4 L35.6 314.3 L36.2 313.5 L36.8 313.8 L37.4 317.8 L38.0 312.9 L38.6 314.1 L39.2 310.7 L39.8 314.5 L40.4 314.0 L41.0 310.9 L41.7 314.0 L42.3 308.9 L43.0 308.5 L43.7 307.4 L44.3 304.5 L45.0 304.7 L45.7 303.5 L46.3 304.1 L47.0 301.4 L47.7 306.7 L48.3 298.2 L49.0 297.0 L49.7 294.9 L50.3 294.3 L51.0 294.7 L51.7 292.8 L52.3 298.3 L53.0 295.1 L53.7 292.8 L54.3 292.9 L55.0 291.3 L55.7 292.6 L56.3 293.5 L57.0 290.6 L57.7 289.1 L58.3 286.0 L59.0 287.4 L59.7 283.6 L60.3 284.4 L61.0 284.8 L61.7 282.9 L62.3 281.5 L63.0 280.6 L63.7 285.3 L64.3 277.3 L65.0 276.0 L65.7 277.1 L66.3 270.3 L67.0 272.1 L67.5 273.3 L68.0 264.7 L68.5 266.2 L69.0 273.8 L69.5 278.3 L70.0 272.5 L70.5 272.0 L71.0 279.1 L71.5 274.6 L72.0 273.0 L72.5 270.7 L73.0 274.7 L73.5 268.3 L74.0 282.0 L74.5 279.8 L75.0 280.0 L75.5 276.1 L76.0 273.1 L76.5 278.1 L77.0 275.9 L77.5 283.8 L78.0 281.3 L78.5 284.2 L79.0 286.0 L79.5 289.9 L80.0 290.7 L80.5 287.5 L81.0 287.4 L81.5 291.7 L82.0 285.7 L82.5 281.4 L83.0 282.9 L83.5 282.0 L84.0 287.4 L84.5 285.1 L85.0 286.7 L85.5 293.7 L86.0 279.3 L86.5 282.4 L87.0 278.9 L87.5 281.2 L88.0 289.8 L88.5 287.3 L89.0 290.0 L89.5 278.5 L90.0 278.6 L90.5 288.6 L91.0 285.1 L91.5 285.6 L92.0 283.9 L92.5 278.8 L93.0 280.0 L93.5 281.4 L94.0 283.7 L94.5 279.8 L95.0 279.7 L95.5 278.4 L96.0 270.1 L96.5 270.5 L97.0 273.4 L97.5 273.0 L98.0 275.2 L98.5 280.6 L99.0 276.0 L99.5 268.9 L100.0 269.3 L100.5 281.8 L101.0 268.5 L101.5 275.3 L102.0 273.4 L102.5 266.7 L103.0 269.8 L103.5 272.4 L104.0 272.0 L104.5 278.2 L105.0 275.5 L105.5 277.5 L106.0 281.4 L106.5 291.5 L107.0 274.1 L107.5 284.3 L108.0 290.9 L108.5 290.6 L109.0 292.4 L109.5 290.4 L110.0 288.0 L110.5 286.1 L111.0 285.3 L111.5 296.1 L112.0 291.1 L112.5 290.8 L113.0 288.2 L113.5 287.8 L114.0 281.7 L114.5 289.1 L115.0 291.4 L115.5 293.0 L116.0 296.5 L116.5 294.8 L117.0 293.8 L117.5 297.6 L118.0 298.2 L118.5 296.1 L119.0 295.7 L119.5 300.3 L120.0 304.9 L120.5 305.5 L121.0 303.0 L121.5 305.3 L122.0 308.2 L122.5 308.5 L123.0 306.9 L123.5 308.7 L124.0 311.0 L124.7 315.3 L125.3 314.4 L126.0 311.8 L126.7 314.0 L127.3 313.7 L128.0 315.0 L128.7 314.9 L129.3 315.8 L130.0 317.0 L130.7 319.0 L131.3 318.7 L132.0 319.0" fill="none" stroke="#0c0c0c" stroke-width="1.15" stroke-linejoin="round"/>
<path d="M20.2 183.4 V319.0 H147.8" fill="none" stroke="#000" stroke-width="1.3"/>
<path d="M20.2 183.4 h-2M20.2 217.3 h-2M20.2 251.2 h-2M20.2 285.1 h-2" stroke="#111" stroke-width="0.8"/>
<path d="M29.8 319.4 v1.3M35.4 319.4 v1.3M39.4 319.4 v1.3M42.5 319.4 v1.3M45.0 319.4 v1.3M47.2 319.4 v1.3M49.0 319.4 v1.3M50.6 319.4 v1.3M61.7 319.4 v1.3M67.3 319.4 v1.3M71.3 319.4 v1.3M74.4 319.4 v1.3M76.9 319.4 v1.3M79.1 319.4 v1.3M80.9 319.4 v1.3M82.5 319.4 v1.3M93.6 319.4 v1.3M99.2 319.4 v1.3M103.2 319.4 v1.3M106.3 319.4 v1.3M108.8 319.4 v1.3M111.0 319.4 v1.3M112.8 319.4 v1.3M114.4 319.4 v1.3M125.5 319.4 v1.3M131.1 319.4 v1.3M135.1 319.4 v1.3M138.2 319.4 v1.3M140.7 319.4 v1.3M142.9 319.4 v1.3M144.7 319.4 v1.3M146.3 319.4 v1.3M20.2 319.4 v2M52.1 319.4 v2M84.0 319.4 v2M115.9 319.4 v2M147.8 319.4 v2" stroke="#222" stroke-width="0.5"/>
<text x="16.7" y="329.1" class="tk">10<tspan dx="0" dy="-3.4" class="sup">0</tspan></text>
<text x="48.6" y="329.1" class="tk">10<tspan dx="0" dy="-3.4" class="sup">1</tspan></text>
<text x="80.5" y="329.1" class="tk">10<tspan dx="0" dy="-3.4" class="sup">2</tspan></text>
<text x="112.4" y="329.1" class="tk">10<tspan dx="0" dy="-3.4" class="sup">3</tspan></text>
<text x="144.3" y="329.1" class="tk">10<tspan dx="0" dy="-3.4" class="sup">4</tspan></text>
<text x="85.5" y="340.2" class="fl" text-anchor="middle">FL1-H</text>
<text transform="translate(16.2 187.1) rotate(-90)" class="yl">32</text>
<text transform="translate(15.9 320.6) rotate(-90)" class="yl">0</text>
<text transform="translate(9.0 247.8) rotate(-90)" class="ev" text-anchor="middle">Events</text>
<text x="82.85" y="216.6" class="ti">G/14E8</text>
</g>
<g>
<path d="M189.0 318.9 L189.5 308.6 L190.0 297.5 L190.5 291.3 L191.0 287.1 L191.5 283.3 L192.0 280.0 L192.5 278.4 L193.0 270.2 L193.5 265.8 L194.0 257.7 L194.5 257.8 L195.0 249.7 L195.5 254.9 L196.0 246.9 L196.5 242.5 L197.0 233.6 L197.5 232.0 L198.0 222.7 L198.5 220.0 L199.0 222.4 L199.5 220.9 L200.0 225.4 L200.5 230.2 L201.0 231.9 L201.5 235.1 L202.0 236.3 L202.5 232.4 L203.0 231.4 L203.5 226.1 L204.0 222.8 L204.5 220.7 L205.0 223.9 L205.5 236.9 L206.0 236.2 L206.5 228.7 L207.0 232.6 L207.5 234.3 L208.0 229.9 L208.5 228.9 L209.0 228.8 L209.5 231.7 L210.0 232.4 L210.5 234.5 L211.0 235.2 L211.5 242.9 L212.0 245.7 L212.5 247.7 L213.0 248.6 L213.5 250.3 L214.0 249.9 L214.5 255.4 L215.0 256.3 L215.5 262.8 L216.0 261.7 L216.5 264.0 L217.0 260.6 L217.5 264.6 L218.0 267.1 L218.5 266.7 L219.0 270.4 L219.5 274.4 L220.0 277.6 L220.5 278.9 L221.0 279.1 L221.5 281.3 L222.0 284.9 L222.7 288.7 L223.3 290.3 L224.0 289.4 L224.7 290.6 L225.3 292.4 L226.0 293.0 L226.7 295.4 L227.3 295.5 L228.0 294.2 L228.7 297.3 L229.3 297.2 L230.0 297.3 L230.7 299.1 L231.3 299.6 L232.0 300.0 L232.7 298.5 L233.3 301.8 L234.0 302.8 L234.7 302.9 L235.3 301.3 L236.0 303.9 L236.7 305.9 L237.3 306.5 L238.0 307.7 L238.7 307.5 L239.3 307.6 L240.0 308.9 L240.7 309.2 L241.3 310.6 L242.0 312.3 L242.6 312.3 L243.2 312.2 L243.9 311.3 L244.5 313.0 L245.1 313.9 L245.8 313.1 L246.4 313.8 L247.0 313.7 L247.6 314.8 L248.2 314.2 L248.9 315.3 L249.5 315.3 L250.1 315.2 L250.8 316.2 L251.4 316.1 L252.0 316.2 L252.6 316.8 L253.2 317.3 L253.9 318.6 L254.5 318.9 Z" fill="#929292"/>
<path d="M189.0 318.9 L189.5 308.6 L190.0 297.5 L190.5 291.3 L191.0 287.1 L191.5 283.3 L192.0 280.0 L192.5 278.4 L193.0 270.2 L193.5 265.8 L194.0 257.7 L194.5 257.8 L195.0 249.7 L195.5 254.9 L196.0 246.9 L196.5 242.5 L197.0 233.6 L197.5 232.0 L198.0 222.7 L198.5 220.0 L199.0 222.4 L199.5 220.9 L200.0 225.4 L200.5 230.2 L201.0 231.9 L201.5 235.1 L202.0 236.3 L202.5 232.4 L203.0 231.4 L203.5 226.1 L204.0 222.8 L204.5 220.7 L205.0 223.9 L205.5 236.9 L206.0 236.2 L206.5 228.7 L207.0 232.6 L207.5 234.3 L208.0 229.9 L208.5 228.9 L209.0 228.8 L209.5 231.7 L210.0 232.4 L210.5 234.5 L211.0 235.2 L211.5 242.9 L212.0 245.7 L212.5 247.7 L213.0 248.6 L213.5 250.3 L214.0 249.9 L214.5 255.4 L215.0 256.3 L215.5 262.8 L216.0 261.7 L216.5 264.0 L217.0 260.6 L217.5 264.6 L218.0 267.1 L218.5 266.7 L219.0 270.4 L219.5 274.4 L220.0 277.6 L220.5 278.9 L221.0 279.1 L221.5 281.3 L222.0 284.9 L222.7 288.7 L223.3 290.3 L224.0 289.4 L224.7 290.6 L225.3 292.4 L226.0 293.0 L226.7 295.4 L227.3 295.5 L228.0 294.2 L228.7 297.3 L229.3 297.2 L230.0 297.3 L230.7 299.1 L231.3 299.6 L232.0 300.0 L232.7 298.5 L233.3 301.8 L234.0 302.8 L234.7 302.9 L235.3 301.3 L236.0 303.9 L236.7 305.9 L237.3 306.5 L238.0 307.7 L238.7 307.5 L239.3 307.6 L240.0 308.9 L240.7 309.2 L241.3 310.6 L242.0 312.3 L242.6 312.3 L243.2 312.2 L243.9 311.3 L244.5 313.0 L245.1 313.9 L245.8 313.1 L246.4 313.8 L247.0 313.7 L247.6 314.8 L248.2 314.2 L248.9 315.3 L249.5 315.3 L250.1 315.2 L250.8 316.2 L251.4 316.1 L252.0 316.2 L252.6 316.8 L253.2 317.3 L253.9 318.6 L254.5 318.9" fill="none" stroke="#fff" stroke-opacity="0.4" stroke-width="3.2" stroke-linejoin="round"/>
<path d="M189.0 318.9 L189.5 308.6 L190.0 297.5 L190.5 291.3 L191.0 287.1 L191.5 283.3 L192.0 280.0 L192.5 278.4 L193.0 270.2 L193.5 265.8 L194.0 257.7 L194.5 257.8 L195.0 249.7 L195.5 254.9 L196.0 246.9 L196.5 242.5 L197.0 233.6 L197.5 232.0 L198.0 222.7 L198.5 220.0 L199.0 222.4 L199.5 220.9 L200.0 225.4 L200.5 230.2 L201.0 231.9 L201.5 235.1 L202.0 236.3 L202.5 232.4 L203.0 231.4 L203.5 226.1 L204.0 222.8 L204.5 220.7 L205.0 223.9 L205.5 236.9 L206.0 236.2 L206.5 228.7 L207.0 232.6 L207.5 234.3 L208.0 229.9 L208.5 228.9 L209.0 228.8 L209.5 231.7 L210.0 232.4 L210.5 234.5 L211.0 235.2 L211.5 242.9 L212.0 245.7 L212.5 247.7 L213.0 248.6 L213.5 250.3 L214.0 249.9 L214.5 255.4 L215.0 256.3 L215.5 262.8 L216.0 261.7 L216.5 264.0 L217.0 260.6 L217.5 264.6 L218.0 267.1 L218.5 266.7 L219.0 270.4 L219.5 274.4 L220.0 277.6 L220.5 278.9 L221.0 279.1 L221.5 281.3 L222.0 284.9 L222.7 288.7 L223.3 290.3 L224.0 289.4 L224.7 290.6 L225.3 292.4 L226.0 293.0 L226.7 295.4 L227.3 295.5 L228.0 294.2 L228.7 297.3 L229.3 297.2 L230.0 297.3 L230.7 299.1 L231.3 299.6 L232.0 300.0 L232.7 298.5 L233.3 301.8 L234.0 302.8 L234.7 302.9 L235.3 301.3 L236.0 303.9 L236.7 305.9 L237.3 306.5 L238.0 307.7 L238.7 307.5 L239.3 307.6 L240.0 308.9 L240.7 309.2 L241.3 310.6 L242.0 312.3 L242.6 312.3 L243.2 312.2 L243.9 311.3 L244.5 313.0 L245.1 313.9 L245.8 313.1 L246.4 313.8 L247.0 313.7 L247.6 314.8 L248.2 314.2 L248.9 315.3 L249.5 315.3 L250.1 315.2 L250.8 316.2 L251.4 316.1 L252.0 316.2 L252.6 316.8 L253.2 317.3 L253.9 318.6 L254.5 318.9" fill="none" stroke="#0c0c0c" stroke-width="1.50" stroke-linejoin="round"/>
<path d="M189.0 313.8 L189.7 314.3 L190.3 310.4 L191.0 311.8 L191.7 309.0 L192.3 306.6 L193.0 309.6 L193.7 305.2 L194.3 309.7 L195.0 306.4 L195.7 308.7 L196.3 308.2 L197.0 308.4 L197.7 307.1 L198.3 306.4 L199.0 304.0 L199.7 305.8 L200.3 301.0 L201.0 302.2 L201.7 305.0 L202.3 300.2 L203.0 300.4 L203.7 297.7 L204.3 297.5 L205.0 297.8 L205.7 296.0 L206.3 294.0 L207.0 296.2 L207.7 296.0 L208.3 295.6 L209.0 294.6 L209.7 286.6 L210.3 296.1 L211.0 289.8 L211.7 287.7 L212.3 289.6 L213.0 291.8 L213.5 291.9 L214.0 284.9 L214.5 284.0 L215.0 275.8 L215.5 281.1 L216.0 278.6 L216.5 280.4 L217.0 288.7 L217.5 291.0 L218.0 290.9 L218.5 282.5 L219.0 285.8 L219.5 284.6 L220.0 287.8 L220.5 289.3 L221.0 288.3 L221.5 285.5 L222.0 280.2 L222.5 282.1 L223.0 285.3 L223.5 288.2 L224.0 291.0 L224.5 284.3 L225.0 284.8 L225.5 286.7 L226.0 287.4 L226.5 292.2 L227.0 286.2 L227.5 291.4 L228.0 289.4 L228.5 289.4 L229.0 297.3 L229.5 292.8 L230.0 293.1 L230.5 290.5 L231.0 285.6 L231.5 286.6 L232.0 291.9 L232.5 290.1 L233.0 288.9 L233.5 291.0 L234.0 284.0 L234.5 280.1 L235.0 286.1 L235.5 292.2 L236.0 289.1 L236.5 284.0 L237.0 283.7 L237.5 286.2 L238.0 289.5 L238.5 280.8 L239.0 276.8 L239.5 289.3 L240.0 289.3 L240.5 288.1 L241.0 287.2 L241.5 286.4 L242.0 290.7 L242.5 294.0 L243.0 292.9 L243.5 289.8 L244.0 294.4 L244.5 289.9 L245.0 293.2 L245.5 289.4 L246.0 294.5 L246.5 295.0 L247.0 295.6 L247.5 290.0 L248.0 291.9 L248.5 288.9 L249.0 292.3 L249.5 293.1 L250.0 293.4 L250.5 288.3 L251.0 284.9 L251.5 289.3 L252.0 289.7 L252.5 286.1 L253.0 289.7 L253.5 287.5 L254.0 288.5 L254.5 291.9 L255.0 289.2 L255.5 284.0 L256.0 284.1 L256.5 284.5 L257.0 286.4 L257.5 286.1 L258.0 281.4 L258.5 287.2 L259.0 282.4 L259.5 287.4 L260.0 292.5 L260.5 288.3 L261.0 287.6 L261.5 280.3 L262.0 282.0 L262.5 287.7 L263.0 291.1 L263.5 292.2 L264.0 284.2 L264.5 282.6 L265.0 283.9 L265.5 287.7 L266.0 289.9 L266.5 286.0 L267.0 288.7 L267.5 290.5 L268.0 287.2 L268.5 291.5 L269.0 289.5 L269.5 291.5 L270.0 288.6 L270.5 288.4 L271.0 294.7 L271.5 294.4 L272.0 292.6 L272.5 292.9 L273.0 292.1 L273.5 291.9 L274.0 292.5 L274.5 297.6 L275.0 293.8 L275.5 289.3 L276.0 289.3 L276.5 285.8 L277.0 293.1 L277.5 293.5 L278.0 292.0 L278.5 285.7 L279.0 289.1 L279.5 295.5 L280.0 294.4 L280.5 296.2 L281.0 301.2 L281.5 292.2 L282.0 294.2 L282.5 292.1 L283.0 290.4 L283.5 298.2 L284.0 293.2 L284.5 295.4 L285.0 292.7 L285.5 289.1 L286.0 295.7 L286.5 296.9 L287.0 296.9 L287.5 292.5 L288.0 288.5 L288.5 294.0 L289.0 299.8 L289.5 301.0 L290.0 304.0 L290.5 302.4 L291.0 305.0 L291.5 306.2 L292.0 306.2 L292.5 307.3 L293.0 309.2 L293.5 309.7 L294.0 309.3 L294.5 309.5 L295.0 307.3 L295.5 310.7 L296.0 314.0 L296.5 312.1 L297.0 312.4 L297.7 313.1 L298.3 315.6 L299.0 314.6 L299.7 313.9 L300.3 315.5 L301.0 316.0 L301.6 316.5 L302.2 316.4 L302.8 316.9 L303.3 318.9 L303.9 318.9 L304.5 318.9" fill="none" stroke="#fff" stroke-opacity="0.4" stroke-width="2.6" stroke-linejoin="round"/>
<path d="M189.0 313.8 L189.7 314.3 L190.3 310.4 L191.0 311.8 L191.7 309.0 L192.3 306.6 L193.0 309.6 L193.7 305.2 L194.3 309.7 L195.0 306.4 L195.7 308.7 L196.3 308.2 L197.0 308.4 L197.7 307.1 L198.3 306.4 L199.0 304.0 L199.7 305.8 L200.3 301.0 L201.0 302.2 L201.7 305.0 L202.3 300.2 L203.0 300.4 L203.7 297.7 L204.3 297.5 L205.0 297.8 L205.7 296.0 L206.3 294.0 L207.0 296.2 L207.7 296.0 L208.3 295.6 L209.0 294.6 L209.7 286.6 L210.3 296.1 L211.0 289.8 L211.7 287.7 L212.3 289.6 L213.0 291.8 L213.5 291.9 L214.0 284.9 L214.5 284.0 L215.0 275.8 L215.5 281.1 L216.0 278.6 L216.5 280.4 L217.0 288.7 L217.5 291.0 L218.0 290.9 L218.5 282.5 L219.0 285.8 L219.5 284.6 L220.0 287.8 L220.5 289.3 L221.0 288.3 L221.5 285.5 L222.0 280.2 L222.5 282.1 L223.0 285.3 L223.5 288.2 L224.0 291.0 L224.5 284.3 L225.0 284.8 L225.5 286.7 L226.0 287.4 L226.5 292.2 L227.0 286.2 L227.5 291.4 L228.0 289.4 L228.5 289.4 L229.0 297.3 L229.5 292.8 L230.0 293.1 L230.5 290.5 L231.0 285.6 L231.5 286.6 L232.0 291.9 L232.5 290.1 L233.0 288.9 L233.5 291.0 L234.0 284.0 L234.5 280.1 L235.0 286.1 L235.5 292.2 L236.0 289.1 L236.5 284.0 L237.0 283.7 L237.5 286.2 L238.0 289.5 L238.5 280.8 L239.0 276.8 L239.5 289.3 L240.0 289.3 L240.5 288.1 L241.0 287.2 L241.5 286.4 L242.0 290.7 L242.5 294.0 L243.0 292.9 L243.5 289.8 L244.0 294.4 L244.5 289.9 L245.0 293.2 L245.5 289.4 L246.0 294.5 L246.5 295.0 L247.0 295.6 L247.5 290.0 L248.0 291.9 L248.5 288.9 L249.0 292.3 L249.5 293.1 L250.0 293.4 L250.5 288.3 L251.0 284.9 L251.5 289.3 L252.0 289.7 L252.5 286.1 L253.0 289.7 L253.5 287.5 L254.0 288.5 L254.5 291.9 L255.0 289.2 L255.5 284.0 L256.0 284.1 L256.5 284.5 L257.0 286.4 L257.5 286.1 L258.0 281.4 L258.5 287.2 L259.0 282.4 L259.5 287.4 L260.0 292.5 L260.5 288.3 L261.0 287.6 L261.5 280.3 L262.0 282.0 L262.5 287.7 L263.0 291.1 L263.5 292.2 L264.0 284.2 L264.5 282.6 L265.0 283.9 L265.5 287.7 L266.0 289.9 L266.5 286.0 L267.0 288.7 L267.5 290.5 L268.0 287.2 L268.5 291.5 L269.0 289.5 L269.5 291.5 L270.0 288.6 L270.5 288.4 L271.0 294.7 L271.5 294.4 L272.0 292.6 L272.5 292.9 L273.0 292.1 L273.5 291.9 L274.0 292.5 L274.5 297.6 L275.0 293.8 L275.5 289.3 L276.0 289.3 L276.5 285.8 L277.0 293.1 L277.5 293.5 L278.0 292.0 L278.5 285.7 L279.0 289.1 L279.5 295.5 L280.0 294.4 L280.5 296.2 L281.0 301.2 L281.5 292.2 L282.0 294.2 L282.5 292.1 L283.0 290.4 L283.5 298.2 L284.0 293.2 L284.5 295.4 L285.0 292.7 L285.5 289.1 L286.0 295.7 L286.5 296.9 L287.0 296.9 L287.5 292.5 L288.0 288.5 L288.5 294.0 L289.0 299.8 L289.5 301.0 L290.0 304.0 L290.5 302.4 L291.0 305.0 L291.5 306.2 L292.0 306.2 L292.5 307.3 L293.0 309.2 L293.5 309.7 L294.0 309.3 L294.5 309.5 L295.0 307.3 L295.5 310.7 L296.0 314.0 L296.5 312.1 L297.0 312.4 L297.7 313.1 L298.3 315.6 L299.0 314.6 L299.7 313.9 L300.3 315.5 L301.0 316.0 L301.6 316.5 L302.2 316.4 L302.8 316.9 L303.3 318.9 L303.9 318.9 L304.5 318.9" fill="none" stroke="#0c0c0c" stroke-width="1.15" stroke-linejoin="round"/>
<path d="M188.6 183.4 V318.9 H316.2" fill="none" stroke="#000" stroke-width="1.3"/>
<path d="M188.6 183.4 h-2M188.6 217.3 h-2M188.6 251.1 h-2M188.6 285.0 h-2" stroke="#111" stroke-width="0.8"/>
<path d="M198.2 319.3 v1.3M203.8 319.3 v1.3M207.8 319.3 v1.3M210.9 319.3 v1.3M213.4 319.3 v1.3M215.6 319.3 v1.3M217.4 319.3 v1.3M219.0 319.3 v1.3M230.1 319.3 v1.3M235.7 319.3 v1.3M239.7 319.3 v1.3M242.8 319.3 v1.3M245.3 319.3 v1.3M247.5 319.3 v1.3M249.3 319.3 v1.3M250.9 319.3 v1.3M262.0 319.3 v1.3M267.6 319.3 v1.3M271.6 319.3 v1.3M274.7 319.3 v1.3M277.2 319.3 v1.3M279.4 319.3 v1.3M281.2 319.3 v1.3M282.8 319.3 v1.3M293.9 319.3 v1.3M299.5 319.3 v1.3M303.5 319.3 v1.3M306.6 319.3 v1.3M309.1 319.3 v1.3M311.3 319.3 v1.3M313.1 319.3 v1.3M314.7 319.3 v1.3M188.6 319.3 v2M220.5 319.3 v2M252.4 319.3 v2M284.3 319.3 v2M316.2 319.3 v2" stroke="#222" stroke-width="0.5"/>
<text x="185.1" y="329.0" class="tk">10<tspan dx="0" dy="-3.4" class="sup">0</tspan></text>
<text x="217.0" y="329.0" class="tk">10<tspan dx="0" dy="-3.4" class="sup">1</tspan></text>
<text x="248.9" y="329.0" class="tk">10<tspan dx="0" dy="-3.4" class="sup">2</tspan></text>
<text x="280.8" y="329.0" class="tk">10<tspan dx="0" dy="-3.4" class="sup">3</tspan></text>
<text x="312.7" y="329.0" class="tk">10<tspan dx="0" dy="-3.4" class="sup">4</tspan></text>
<text x="253.9" y="340.1" class="fl" text-anchor="middle">FL1-H</text>
<text transform="translate(184.6 187.1) rotate(-90)" class="yl">32</text>
<text transform="translate(184.3 320.5) rotate(-90)" class="yl">0</text>
<text transform="translate(177.4 247.7) rotate(-90)" class="ev" text-anchor="middle">Events</text>
<text x="246.65" y="216.8" class="ti">G/5B5</text>
</g>
<g>
<path d="M362.0 318.7 L362.5 289.1 L363.0 278.1 L363.5 269.7 L364.0 265.0 L364.5 258.4 L365.0 258.3 L365.5 250.1 L366.0 252.6 L366.5 248.2 L367.0 244.0 L367.5 240.7 L368.0 240.1 L368.5 238.4 L369.0 229.9 L369.5 232.5 L370.0 233.2 L370.5 229.3 L371.0 227.1 L371.5 222.9 L372.0 222.0 L372.5 221.7 L373.0 228.3 L373.5 212.7 L374.0 215.5 L374.5 218.4 L375.0 220.2 L375.5 216.9 L376.0 212.1 L376.5 220.6 L377.0 220.0 L377.5 221.2 L378.0 217.8 L378.5 215.2 L379.0 213.9 L379.5 219.0 L380.0 221.8 L380.5 223.2 L381.0 221.9 L381.5 216.7 L382.0 220.2 L382.5 226.0 L383.0 223.6 L383.5 225.9 L384.0 234.8 L384.5 235.9 L385.0 237.5 L385.5 240.1 L386.0 243.0 L386.5 242.3 L387.0 245.2 L387.5 248.6 L388.0 251.8 L388.5 252.2 L389.0 253.3 L389.5 256.8 L390.0 258.7 L390.5 261.3 L391.0 261.7 L391.5 264.8 L392.0 267.1 L392.5 270.4 L393.0 275.1 L393.5 279.8 L394.0 279.0 L394.5 282.9 L395.0 284.8 L395.5 286.0 L396.0 287.9 L396.5 288.7 L397.0 292.6 L397.5 293.9 L398.0 290.6 L398.5 298.4 L399.0 300.3 L399.5 304.2 L400.0 302.0 L400.5 305.0 L401.2 307.1 L401.8 307.4 L402.5 310.4 L403.1 311.3 L403.8 311.2 L404.4 311.9 L405.0 313.7 L405.6 315.6 L406.2 315.6 L406.9 312.8 L407.5 313.4 L408.1 315.2 L408.8 315.0 L409.4 314.8 L410.0 315.7 L410.6 315.5 L411.2 315.8 L411.9 315.9 L412.5 315.4 L413.1 316.8 L413.8 316.2 L414.4 317.0 L415.1 317.1 L415.8 317.1 L416.5 317.4 L417.2 317.6 L417.9 317.4 L418.6 318.1 L419.3 318.4 L420.0 318.7 Z" fill="#929292"/>
<path d="M362.0 318.7 L362.5 289.1 L363.0 278.1 L363.5 269.7 L364.0 265.0 L364.5 258.4 L365.0 258.3 L365.5 250.1 L366.0 252.6 L366.5 248.2 L367.0 244.0 L367.5 240.7 L368.0 240.1 L368.5 238.4 L369.0 229.9 L369.5 232.5 L370.0 233.2 L370.5 229.3 L371.0 227.1 L371.5 222.9 L372.0 222.0 L372.5 221.7 L373.0 228.3 L373.5 212.7 L374.0 215.5 L374.5 218.4 L375.0 220.2 L375.5 216.9 L376.0 212.1 L376.5 220.6 L377.0 220.0 L377.5 221.2 L378.0 217.8 L378.5 215.2 L379.0 213.9 L379.5 219.0 L380.0 221.8 L380.5 223.2 L381.0 221.9 L381.5 216.7 L382.0 220.2 L382.5 226.0 L383.0 223.6 L383.5 225.9 L384.0 234.8 L384.5 235.9 L385.0 237.5 L385.5 240.1 L386.0 243.0 L386.5 242.3 L387.0 245.2 L387.5 248.6 L388.0 251.8 L388.5 252.2 L389.0 253.3 L389.5 256.8 L390.0 258.7 L390.5 261.3 L391.0 261.7 L391.5 264.8 L392.0 267.1 L392.5 270.4 L393.0 275.1 L393.5 279.8 L394.0 279.0 L394.5 282.9 L395.0 284.8 L395.5 286.0 L396.0 287.9 L396.5 288.7 L397.0 292.6 L397.5 293.9 L398.0 290.6 L398.5 298.4 L399.0 300.3 L399.5 304.2 L400.0 302.0 L400.5 305.0 L401.2 307.1 L401.8 307.4 L402.5 310.4 L403.1 311.3 L403.8 311.2 L404.4 311.9 L405.0 313.7 L405.6 315.6 L406.2 315.6 L406.9 312.8 L407.5 313.4 L408.1 315.2 L408.8 315.0 L409.4 314.8 L410.0 315.7 L410.6 315.5 L411.2 315.8 L411.9 315.9 L412.5 315.4 L413.1 316.8 L413.8 316.2 L414.4 317.0 L415.1 317.1 L415.8 317.1 L416.5 317.4 L417.2 317.6 L417.9 317.4 L418.6 318.1 L419.3 318.4 L420.0 318.7" fill="none" stroke="#fff" stroke-opacity="0.4" stroke-width="3.2" stroke-linejoin="round"/>
<path d="M362.0 318.7 L362.5 289.1 L363.0 278.1 L363.5 269.7 L364.0 265.0 L364.5 258.4 L365.0 258.3 L365.5 250.1 L366.0 252.6 L366.5 248.2 L367.0 244.0 L367.5 240.7 L368.0 240.1 L368.5 238.4 L369.0 229.9 L369.5 232.5 L370.0 233.2 L370.5 229.3 L371.0 227.1 L371.5 222.9 L372.0 222.0 L372.5 221.7 L373.0 228.3 L373.5 212.7 L374.0 215.5 L374.5 218.4 L375.0 220.2 L375.5 216.9 L376.0 212.1 L376.5 220.6 L377.0 220.0 L377.5 221.2 L378.0 217.8 L378.5 215.2 L379.0 213.9 L379.5 219.0 L380.0 221.8 L380.5 223.2 L381.0 221.9 L381.5 216.7 L382.0 220.2 L382.5 226.0 L383.0 223.6 L383.5 225.9 L384.0 234.8 L384.5 235.9 L385.0 237.5 L385.5 240.1 L386.0 243.0 L386.5 242.3 L387.0 245.2 L387.5 248.6 L388.0 251.8 L388.5 252.2 L389.0 253.3 L389.5 256.8 L390.0 258.7 L390.5 261.3 L391.0 261.7 L391.5 264.8 L392.0 267.1 L392.5 270.4 L393.0 275.1 L393.5 279.8 L394.0 279.0 L394.5 282.9 L395.0 284.8 L395.5 286.0 L396.0 287.9 L396.5 288.7 L397.0 292.6 L397.5 293.9 L398.0 290.6 L398.5 298.4 L399.0 300.3 L399.5 304.2 L400.0 302.0 L400.5 305.0 L401.2 307.1 L401.8 307.4 L402.5 310.4 L403.1 311.3 L403.8 311.2 L404.4 311.9 L405.0 313.7 L405.6 315.6 L406.2 315.6 L406.9 312.8 L407.5 313.4 L408.1 315.2 L408.8 315.0 L409.4 314.8 L410.0 315.7 L410.6 315.5 L411.2 315.8 L411.9 315.9 L412.5 315.4 L413.1 316.8 L413.8 316.2 L414.4 317.0 L415.1 317.1 L415.8 317.1 L416.5 317.4 L417.2 317.6 L417.9 317.4 L418.6 318.1 L419.3 318.4 L420.0 318.7" fill="none" stroke="#0c0c0c" stroke-width="1.50" stroke-linejoin="round"/>
<path d="M362.0 318.7 L362.5 300.4 L363.0 293.3 L363.5 291.3 L364.0 295.0 L364.5 297.9 L365.0 292.5 L365.5 299.2 L366.0 296.1 L366.5 296.9 L367.0 290.9 L367.5 293.5 L368.0 294.9 L368.5 300.2 L369.0 298.0 L369.5 294.7 L370.0 294.6 L370.5 290.5 L371.0 293.0 L371.5 287.5 L372.0 285.2 L372.5 288.9 L373.0 295.0 L373.5 290.9 L374.0 293.4 L374.5 290.9 L375.0 289.1 L375.5 294.2 L376.0 293.1 L376.5 291.1 L377.0 287.6 L377.5 288.7 L378.0 288.3 L378.5 295.4 L379.0 299.4 L379.5 298.8 L380.0 296.1 L380.5 291.8 L381.0 297.7 L381.5 301.0 L382.0 300.1 L382.5 294.5 L383.0 295.0 L383.5 287.1 L384.0 289.3 L384.5 294.4 L385.0 296.0 L385.5 286.6 L386.0 290.3 L386.5 283.3 L387.0 290.5 L387.5 278.1 L388.0 291.3 L388.5 289.4 L389.0 291.2 L389.5 286.0 L390.0 284.9 L390.5 287.1 L391.0 290.6 L391.5 290.5 L392.0 285.2 L392.5 285.5 L393.0 289.4 L393.5 289.6 L394.0 288.7 L394.5 285.6 L395.0 284.4 L395.5 285.7 L396.0 280.8 L396.5 273.3 L397.0 274.2 L397.5 283.1 L398.0 278.6 L398.5 284.6 L399.0 284.9 L399.5 289.3 L400.0 284.2 L400.5 283.0 L401.0 282.9 L401.5 288.1 L402.0 282.9 L402.5 281.7 L403.0 281.9 L403.5 278.4 L404.0 280.8 L404.5 284.7 L405.0 282.8 L405.5 277.8 L406.0 277.6 L406.5 280.8 L407.0 290.4 L407.5 288.6 L408.0 281.1 L408.5 273.0 L409.0 278.4 L409.5 273.9 L410.0 271.2 L410.5 269.7 L411.0 255.4 L411.5 264.8 L412.0 271.3 L412.5 274.4 L413.0 266.2 L413.5 260.7 L414.0 266.0 L414.5 268.8 L415.0 260.9 L415.5 274.0 L416.0 263.8 L416.5 269.1 L417.0 264.8 L417.5 273.1 L418.0 271.6 L418.5 275.7 L419.0 268.2 L419.5 272.0 L420.0 282.0 L420.5 274.5 L421.0 277.3 L421.5 277.3 L422.0 274.3 L422.5 275.5 L423.0 284.2 L423.5 281.6 L424.0 281.5 L424.5 279.4 L425.0 275.8 L425.5 280.0 L426.0 288.8 L426.5 285.2 L427.0 279.4 L427.5 277.7 L428.0 285.4 L428.5 285.6 L429.0 281.6 L429.5 282.1 L430.0 282.6 L430.5 283.6 L431.0 279.1 L431.5 285.8 L432.0 277.4 L432.5 285.6 L433.0 286.2 L433.5 278.5 L434.0 285.4 L434.5 281.2 L435.0 285.4 L435.5 296.8 L436.0 296.8 L436.5 292.5 L437.0 291.7 L437.5 295.6 L438.0 289.6 L438.5 295.5 L439.0 298.7 L439.5 292.8 L440.0 292.6 L440.5 293.5 L441.0 299.7 L441.5 299.5 L442.0 299.2 L442.5 298.4 L443.0 301.6 L443.5 304.3 L444.0 306.1 L444.5 305.9 L445.0 304.3 L445.5 307.8 L446.0 307.8 L446.5 311.4 L447.0 309.0 L447.5 311.0 L448.0 312.9 L448.5 315.3 L449.0 313.7 L449.5 313.2 L450.0 311.4 L450.5 312.3 L451.0 314.8 L451.5 315.4 L452.0 315.5 L452.6 314.5 L453.2 318.1 L453.8 318.7" fill="none" stroke="#fff" stroke-opacity="0.4" stroke-width="2.6" stroke-linejoin="round"/>
<path d="M362.0 318.7 L362.5 300.4 L363.0 293.3 L363.5 291.3 L364.0 295.0 L364.5 297.9 L365.0 292.5 L365.5 299.2 L366.0 296.1 L366.5 296.9 L367.0 290.9 L367.5 293.5 L368.0 294.9 L368.5 300.2 L369.0 298.0 L369.5 294.7 L370.0 294.6 L370.5 290.5 L371.0 293.0 L371.5 287.5 L372.0 285.2 L372.5 288.9 L373.0 295.0 L373.5 290.9 L374.0 293.4 L374.5 290.9 L375.0 289.1 L375.5 294.2 L376.0 293.1 L376.5 291.1 L377.0 287.6 L377.5 288.7 L378.0 288.3 L378.5 295.4 L379.0 299.4 L379.5 298.8 L380.0 296.1 L380.5 291.8 L381.0 297.7 L381.5 301.0 L382.0 300.1 L382.5 294.5 L383.0 295.0 L383.5 287.1 L384.0 289.3 L384.5 294.4 L385.0 296.0 L385.5 286.6 L386.0 290.3 L386.5 283.3 L387.0 290.5 L387.5 278.1 L388.0 291.3 L388.5 289.4 L389.0 291.2 L389.5 286.0 L390.0 284.9 L390.5 287.1 L391.0 290.6 L391.5 290.5 L392.0 285.2 L392.5 285.5 L393.0 289.4 L393.5 289.6 L394.0 288.7 L394.5 285.6 L395.0 284.4 L395.5 285.7 L396.0 280.8 L396.5 273.3 L397.0 274.2 L397.5 283.1 L398.0 278.6 L398.5 284.6 L399.0 284.9 L399.5 289.3 L400.0 284.2 L400.5 283.0 L401.0 282.9 L401.5 288.1 L402.0 282.9 L402.5 281.7 L403.0 281.9 L403.5 278.4 L404.0 280.8 L404.5 284.7 L405.0 282.8 L405.5 277.8 L406.0 277.6 L406.5 280.8 L407.0 290.4 L407.5 288.6 L408.0 281.1 L408.5 273.0 L409.0 278.4 L409.5 273.9 L410.0 271.2 L410.5 269.7 L411.0 255.4 L411.5 264.8 L412.0 271.3 L412.5 274.4 L413.0 266.2 L413.5 260.7 L414.0 266.0 L414.5 268.8 L415.0 260.9 L415.5 274.0 L416.0 263.8 L416.5 269.1 L417.0 264.8 L417.5 273.1 L418.0 271.6 L418.5 275.7 L419.0 268.2 L419.5 272.0 L420.0 282.0 L420.5 274.5 L421.0 277.3 L421.5 277.3 L422.0 274.3 L422.5 275.5 L423.0 284.2 L423.5 281.6 L424.0 281.5 L424.5 279.4 L425.0 275.8 L425.5 280.0 L426.0 288.8 L426.5 285.2 L427.0 279.4 L427.5 277.7 L428.0 285.4 L428.5 285.6 L429.0 281.6 L429.5 282.1 L430.0 282.6 L430.5 283.6 L431.0 279.1 L431.5 285.8 L432.0 277.4 L432.5 285.6 L433.0 286.2 L433.5 278.5 L434.0 285.4 L434.5 281.2 L435.0 285.4 L435.5 296.8 L436.0 296.8 L436.5 292.5 L437.0 291.7 L437.5 295.6 L438.0 289.6 L438.5 295.5 L439.0 298.7 L439.5 292.8 L440.0 292.6 L440.5 293.5 L441.0 299.7 L441.5 299.5 L442.0 299.2 L442.5 298.4 L443.0 301.6 L443.5 304.3 L444.0 306.1 L444.5 305.9 L445.0 304.3 L445.5 307.8 L446.0 307.8 L446.5 311.4 L447.0 309.0 L447.5 311.0 L448.0 312.9 L448.5 315.3 L449.0 313.7 L449.5 313.2 L450.0 311.4 L450.5 312.3 L451.0 314.8 L451.5 315.4 L452.0 315.5 L452.6 314.5 L453.2 318.1 L453.8 318.7" fill="none" stroke="#0c0c0c" stroke-width="1.15" stroke-linejoin="round"/>
<path d="M361.5 183.4 V318.7 H489.1" fill="none" stroke="#000" stroke-width="1.3"/>
<path d="M361.5 183.4 h-2M361.5 217.2 h-2M361.5 251.1 h-2M361.5 284.9 h-2" stroke="#111" stroke-width="0.8"/>
<path d="M371.1 319.1 v1.3M376.7 319.1 v1.3M380.7 319.1 v1.3M383.8 319.1 v1.3M386.3 319.1 v1.3M388.5 319.1 v1.3M390.3 319.1 v1.3M391.9 319.1 v1.3M403.0 319.1 v1.3M408.6 319.1 v1.3M412.6 319.1 v1.3M415.7 319.1 v1.3M418.2 319.1 v1.3M420.4 319.1 v1.3M422.2 319.1 v1.3M423.8 319.1 v1.3M434.9 319.1 v1.3M440.5 319.1 v1.3M444.5 319.1 v1.3M447.6 319.1 v1.3M450.1 319.1 v1.3M452.3 319.1 v1.3M454.1 319.1 v1.3M455.7 319.1 v1.3M466.8 319.1 v1.3M472.4 319.1 v1.3M476.4 319.1 v1.3M479.5 319.1 v1.3M482.0 319.1 v1.3M484.2 319.1 v1.3M486.0 319.1 v1.3M487.6 319.1 v1.3M361.5 319.1 v2M393.4 319.1 v2M425.3 319.1 v2M457.2 319.1 v2M489.1 319.1 v2" stroke="#222" stroke-width="0.5"/>
<text x="358.0" y="328.8" class="tk">10<tspan dx="0" dy="-3.4" class="sup">0</tspan></text>
<text x="389.9" y="328.8" class="tk">10<tspan dx="0" dy="-3.4" class="sup">1</tspan></text>
<text x="421.8" y="328.8" class="tk">10<tspan dx="0" dy="-3.4" class="sup">2</tspan></text>
<text x="453.7" y="328.8" class="tk">10<tspan dx="0" dy="-3.4" class="sup">3</tspan></text>
<text x="485.6" y="328.8" class="tk">10<tspan dx="0" dy="-3.4" class="sup">4</tspan></text>
<text x="426.8" y="339.9" class="fl" text-anchor="middle">FL1-H</text>
<text transform="translate(357.5 187.1) rotate(-90)" class="yl">32</text>
<text transform="translate(357.2 320.3) rotate(-90)" class="yl">0</text>
<text transform="translate(350.3 247.7) rotate(-90)" class="ev" text-anchor="middle">Events</text>
<text x="423.95" y="216.6" class="ti">G/5C5</text>
</g>
<g>
<path d="M20.0 493.7 L20.5 464.4 L21.0 453.7 L21.5 438.0 L22.0 436.4 L22.5 431.1 L23.0 431.1 L23.5 427.8 L24.0 428.5 L24.5 422.1 L25.0 421.4 L25.5 407.9 L26.0 404.5 L26.5 398.5 L27.0 394.4 L27.5 396.0 L28.0 394.6 L28.5 396.5 L29.0 396.0 L29.5 394.7 L30.0 394.5 L30.5 391.7 L31.0 391.3 L31.5 379.9 L32.0 386.1 L32.5 387.4 L33.0 394.2 L33.5 395.1 L34.0 399.3 L34.5 395.2 L35.0 394.2 L35.5 390.7 L36.0 387.6 L36.5 385.7 L37.0 388.0 L37.5 395.2 L38.0 395.6 L38.5 395.0 L39.0 397.1 L39.5 401.9 L40.0 404.7 L40.5 404.1 L41.0 403.0 L41.5 401.6 L42.0 410.9 L42.5 409.5 L43.0 410.2 L43.5 420.6 L44.0 416.1 L44.5 424.7 L45.0 424.7 L45.5 426.7 L46.0 431.3 L46.5 432.1 L47.0 437.7 L47.5 439.3 L48.0 441.5 L48.5 449.5 L49.0 448.9 L49.5 454.6 L50.0 455.0 L50.5 458.0 L51.0 455.9 L51.5 459.3 L52.0 456.6 L52.5 466.7 L53.0 467.8 L53.5 468.1 L54.0 473.8 L54.5 475.3 L55.0 480.6 L55.5 478.6 L56.0 480.4 L56.5 482.0 L57.0 483.3 L57.5 483.7 L58.2 484.2 L58.8 486.1 L59.5 486.6 L60.1 485.7 L60.8 486.2 L61.4 487.5 L62.0 488.5 L62.6 488.3 L63.2 487.8 L63.9 490.0 L64.5 490.2 L65.1 491.2 L65.7 490.1 L66.2 491.2 L66.8 489.6 L67.4 490.6 L68.0 490.0 L68.6 489.5 L69.2 490.3 L69.9 491.4 L70.5 491.4 L71.1 490.8 L71.8 491.4 L72.4 492.0 L73.1 492.2 L73.8 492.2 L74.5 492.5 L75.2 492.3 L75.9 492.9 L76.6 493.2 L77.3 493.4 L78.0 493.7 Z" fill="#929292"/>
<path d="M20.0 493.7 L20.5 464.4 L21.0 453.7 L21.5 438.0 L22.0 436.4 L22.5 431.1 L23.0 431.1 L23.5 427.8 L24.0 428.5 L24.5 422.1 L25.0 421.4 L25.5 407.9 L26.0 404.5 L26.5 398.5 L27.0 394.4 L27.5 396.0 L28.0 394.6 L28.5 396.5 L29.0 396.0 L29.5 394.7 L30.0 394.5 L30.5 391.7 L31.0 391.3 L31.5 379.9 L32.0 386.1 L32.5 387.4 L33.0 394.2 L33.5 395.1 L34.0 399.3 L34.5 395.2 L35.0 394.2 L35.5 390.7 L36.0 387.6 L36.5 385.7 L37.0 388.0 L37.5 395.2 L38.0 395.6 L38.5 395.0 L39.0 397.1 L39.5 401.9 L40.0 404.7 L40.5 404.1 L41.0 403.0 L41.5 401.6 L42.0 410.9 L42.5 409.5 L43.0 410.2 L43.5 420.6 L44.0 416.1 L44.5 424.7 L45.0 424.7 L45.5 426.7 L46.0 431.3 L46.5 432.1 L47.0 437.7 L47.5 439.3 L48.0 441.5 L48.5 449.5 L49.0 448.9 L49.5 454.6 L50.0 455.0 L50.5 458.0 L51.0 455.9 L51.5 459.3 L52.0 456.6 L52.5 466.7 L53.0 467.8 L53.5 468.1 L54.0 473.8 L54.5 475.3 L55.0 480.6 L55.5 478.6 L56.0 480.4 L56.5 482.0 L57.0 483.3 L57.5 483.7 L58.2 484.2 L58.8 486.1 L59.5 486.6 L60.1 485.7 L60.8 486.2 L61.4 487.5 L62.0 488.5 L62.6 488.3 L63.2 487.8 L63.9 490.0 L64.5 490.2 L65.1 491.2 L65.7 490.1 L66.2 491.2 L66.8 489.6 L67.4 490.6 L68.0 490.0 L68.6 489.5 L69.2 490.3 L69.9 491.4 L70.5 491.4 L71.1 490.8 L71.8 491.4 L72.4 492.0 L73.1 492.2 L73.8 492.2 L74.5 492.5 L75.2 492.3 L75.9 492.9 L76.6 493.2 L77.3 493.4 L78.0 493.7" fill="none" stroke="#fff" stroke-opacity="0.4" stroke-width="3.2" stroke-linejoin="round"/>
<path d="M20.0 493.7 L20.5 464.4 L21.0 453.7 L21.5 438.0 L22.0 436.4 L22.5 431.1 L23.0 431.1 L23.5 427.8 L24.0 428.5 L24.5 422.1 L25.0 421.4 L25.5 407.9 L26.0 404.5 L26.5 398.5 L27.0 394.4 L27.5 396.0 L28.0 394.6 L28.5 396.5 L29.0 396.0 L29.5 394.7 L30.0 394.5 L30.5 391.7 L31.0 391.3 L31.5 379.9 L32.0 386.1 L32.5 387.4 L33.0 394.2 L33.5 395.1 L34.0 399.3 L34.5 395.2 L35.0 394.2 L35.5 390.7 L36.0 387.6 L36.5 385.7 L37.0 388.0 L37.5 395.2 L38.0 395.6 L38.5 395.0 L39.0 397.1 L39.5 401.9 L40.0 404.7 L40.5 404.1 L41.0 403.0 L41.5 401.6 L42.0 410.9 L42.5 409.5 L43.0 410.2 L43.5 420.6 L44.0 416.1 L44.5 424.7 L45.0 424.7 L45.5 426.7 L46.0 431.3 L46.5 432.1 L47.0 437.7 L47.5 439.3 L48.0 441.5 L48.5 449.5 L49.0 448.9 L49.5 454.6 L50.0 455.0 L50.5 458.0 L51.0 455.9 L51.5 459.3 L52.0 456.6 L52.5 466.7 L53.0 467.8 L53.5 468.1 L54.0 473.8 L54.5 475.3 L55.0 480.6 L55.5 478.6 L56.0 480.4 L56.5 482.0 L57.0 483.3 L57.5 483.7 L58.2 484.2 L58.8 486.1 L59.5 486.6 L60.1 485.7 L60.8 486.2 L61.4 487.5 L62.0 488.5 L62.6 488.3 L63.2 487.8 L63.9 490.0 L64.5 490.2 L65.1 491.2 L65.7 490.1 L66.2 491.2 L66.8 489.6 L67.4 490.6 L68.0 490.0 L68.6 489.5 L69.2 490.3 L69.9 491.4 L70.5 491.4 L71.1 490.8 L71.8 491.4 L72.4 492.0 L73.1 492.2 L73.8 492.2 L74.5 492.5 L75.2 492.3 L75.9 492.9 L76.6 493.2 L77.3 493.4 L78.0 493.7" fill="none" stroke="#0c0c0c" stroke-width="1.50" stroke-linejoin="round"/>
<path d="M31.8 493.7 L32.4 488.3 L33.0 484.8 L33.5 482.9 L34.0 480.5 L34.5 478.5 L35.0 473.0 L35.5 473.0 L36.0 472.8 L36.5 472.2 L37.0 475.1 L37.5 474.5 L38.0 476.1 L38.5 469.3 L39.0 466.2 L39.5 469.2 L40.0 471.6 L40.5 462.6 L41.0 462.0 L41.5 460.3 L42.0 458.9 L42.5 461.5 L43.0 452.7 L43.5 448.9 L44.0 454.5 L44.5 456.4 L45.0 453.2 L45.5 450.4 L46.0 443.9 L46.5 448.9 L47.0 436.9 L47.5 432.8 L48.0 439.2 L48.5 439.4 L49.0 441.6 L49.5 439.4 L50.0 440.6 L50.5 427.7 L51.0 425.9 L51.5 434.3 L52.0 425.2 L52.5 421.1 L53.0 431.0 L53.5 424.4 L54.0 412.9 L54.5 422.5 L55.0 414.4 L55.5 414.8 L56.0 415.3 L56.5 416.0 L57.0 408.3 L57.5 412.2 L58.0 400.5 L58.5 410.8 L59.0 415.5 L59.5 417.7 L60.0 423.1 L60.5 411.2 L61.0 422.7 L61.5 423.4 L62.0 415.5 L62.5 417.5 L63.0 417.7 L63.5 425.0 L64.0 426.4 L64.5 429.2 L65.0 420.3 L65.5 422.6 L66.0 428.7 L66.5 433.0 L67.0 439.3 L67.5 433.6 L68.0 432.7 L68.5 430.7 L69.0 418.1 L69.5 424.9 L70.0 430.5 L70.5 444.1 L71.0 438.1 L71.5 442.1 L72.0 435.7 L72.5 438.6 L73.0 445.4 L73.5 454.1 L74.0 442.8 L74.5 446.7 L75.0 445.7 L75.5 451.9 L76.0 457.5 L76.5 455.8 L77.0 448.8 L77.5 440.9 L78.0 456.4 L78.5 464.0 L79.0 463.4 L79.5 469.4 L80.0 466.8 L80.5 470.9 L81.0 469.4 L81.5 469.1 L82.0 469.3 L82.5 478.3 L83.0 475.3 L83.5 473.9 L84.0 483.8 L84.5 483.0 L85.0 486.5 L85.5 485.8 L86.0 484.9 L86.5 485.9 L87.0 487.7 L87.5 488.7 L88.2 490.6 L88.8 486.9 L89.5 487.4 L90.2 488.3 L90.8 489.0 L91.5 489.5 L92.2 488.8 L92.9 487.7 L93.6 491.3 L94.2 491.2 L94.9 491.9 L95.5 491.2 L96.1 492.5 L96.8 492.3 L97.4 492.9 L98.0 493.7" fill="none" stroke="#fff" stroke-opacity="0.4" stroke-width="2.6" stroke-linejoin="round"/>
<path d="M31.8 493.7 L32.4 488.3 L33.0 484.8 L33.5 482.9 L34.0 480.5 L34.5 478.5 L35.0 473.0 L35.5 473.0 L36.0 472.8 L36.5 472.2 L37.0 475.1 L37.5 474.5 L38.0 476.1 L38.5 469.3 L39.0 466.2 L39.5 469.2 L40.0 471.6 L40.5 462.6 L41.0 462.0 L41.5 460.3 L42.0 458.9 L42.5 461.5 L43.0 452.7 L43.5 448.9 L44.0 454.5 L44.5 456.4 L45.0 453.2 L45.5 450.4 L46.0 443.9 L46.5 448.9 L47.0 436.9 L47.5 432.8 L48.0 439.2 L48.5 439.4 L49.0 441.6 L49.5 439.4 L50.0 440.6 L50.5 427.7 L51.0 425.9 L51.5 434.3 L52.0 425.2 L52.5 421.1 L53.0 431.0 L53.5 424.4 L54.0 412.9 L54.5 422.5 L55.0 414.4 L55.5 414.8 L56.0 415.3 L56.5 416.0 L57.0 408.3 L57.5 412.2 L58.0 400.5 L58.5 410.8 L59.0 415.5 L59.5 417.7 L60.0 423.1 L60.5 411.2 L61.0 422.7 L61.5 423.4 L62.0 415.5 L62.5 417.5 L63.0 417.7 L63.5 425.0 L64.0 426.4 L64.5 429.2 L65.0 420.3 L65.5 422.6 L66.0 428.7 L66.5 433.0 L67.0 439.3 L67.5 433.6 L68.0 432.7 L68.5 430.7 L69.0 418.1 L69.5 424.9 L70.0 430.5 L70.5 444.1 L71.0 438.1 L71.5 442.1 L72.0 435.7 L72.5 438.6 L73.0 445.4 L73.5 454.1 L74.0 442.8 L74.5 446.7 L75.0 445.7 L75.5 451.9 L76.0 457.5 L76.5 455.8 L77.0 448.8 L77.5 440.9 L78.0 456.4 L78.5 464.0 L79.0 463.4 L79.5 469.4 L80.0 466.8 L80.5 470.9 L81.0 469.4 L81.5 469.1 L82.0 469.3 L82.5 478.3 L83.0 475.3 L83.5 473.9 L84.0 483.8 L84.5 483.0 L85.0 486.5 L85.5 485.8 L86.0 484.9 L86.5 485.9 L87.0 487.7 L87.5 488.7 L88.2 490.6 L88.8 486.9 L89.5 487.4 L90.2 488.3 L90.8 489.0 L91.5 489.5 L92.2 488.8 L92.9 487.7 L93.6 491.3 L94.2 491.2 L94.9 491.9 L95.5 491.2 L96.1 492.5 L96.8 492.3 L97.4 492.9 L98.0 493.7" fill="none" stroke="#0c0c0c" stroke-width="1.15" stroke-linejoin="round"/>
<path d="M19.9 358.1 V493.7 H147.5" fill="none" stroke="#000" stroke-width="1.3"/>
<path d="M19.9 358.1 h-2M19.9 392.0 h-2M19.9 425.9 h-2M19.9 459.8 h-2" stroke="#111" stroke-width="0.8"/>
<path d="M29.5 494.1 v1.3M35.1 494.1 v1.3M39.1 494.1 v1.3M42.2 494.1 v1.3M44.7 494.1 v1.3M46.9 494.1 v1.3M48.7 494.1 v1.3M50.3 494.1 v1.3M61.4 494.1 v1.3M67.0 494.1 v1.3M71.0 494.1 v1.3M74.1 494.1 v1.3M76.6 494.1 v1.3M78.8 494.1 v1.3M80.6 494.1 v1.3M82.2 494.1 v1.3M93.3 494.1 v1.3M98.9 494.1 v1.3M102.9 494.1 v1.3M106.0 494.1 v1.3M108.5 494.1 v1.3M110.7 494.1 v1.3M112.5 494.1 v1.3M114.1 494.1 v1.3M125.2 494.1 v1.3M130.8 494.1 v1.3M134.8 494.1 v1.3M137.9 494.1 v1.3M140.4 494.1 v1.3M142.6 494.1 v1.3M144.4 494.1 v1.3M146.0 494.1 v1.3M19.9 494.1 v2M51.8 494.1 v2M83.7 494.1 v2M115.6 494.1 v2M147.5 494.1 v2" stroke="#222" stroke-width="0.5"/>
<text x="16.4" y="503.8" class="tk">10<tspan dx="0" dy="-3.4" class="sup">0</tspan></text>
<text x="48.3" y="503.8" class="tk">10<tspan dx="0" dy="-3.4" class="sup">1</tspan></text>
<text x="80.2" y="503.8" class="tk">10<tspan dx="0" dy="-3.4" class="sup">2</tspan></text>
<text x="112.1" y="503.8" class="tk">10<tspan dx="0" dy="-3.4" class="sup">3</tspan></text>
<text x="144.0" y="503.8" class="tk">10<tspan dx="0" dy="-3.4" class="sup">4</tspan></text>
<text x="85.2" y="514.9" class="fl" text-anchor="middle">FL1-H</text>
<text transform="translate(15.9 361.8) rotate(-90)" class="yl">32</text>
<text transform="translate(15.6 495.3) rotate(-90)" class="yl">0</text>
<text transform="translate(8.7 422.5) rotate(-90)" class="ev" text-anchor="middle">Events</text>
<text x="82.45" y="399.5" class="ti">G/5B3</text>
</g>
<g>
<path d="M189.0 493.5 L189.5 479.7 L190.0 465.4 L190.5 456.2 L191.0 445.0 L191.5 440.8 L192.0 441.7 L192.5 436.1 L193.0 430.9 L193.5 427.2 L194.0 427.8 L194.5 425.0 L195.0 418.3 L195.5 419.8 L196.0 408.2 L196.5 408.4 L197.0 407.8 L197.5 408.8 L198.0 398.5 L198.5 402.0 L199.0 404.5 L199.5 402.0 L200.0 394.7 L200.5 392.6 L201.0 387.1 L201.5 388.0 L202.0 384.5 L202.5 381.6 L203.0 387.0 L203.5 388.1 L204.0 382.7 L204.5 387.6 L205.0 388.7 L205.5 383.7 L206.0 389.7 L206.5 393.8 L207.0 395.0 L207.5 398.6 L208.0 398.0 L208.5 402.5 L209.0 399.4 L209.5 404.3 L210.0 404.5 L210.5 412.5 L211.0 413.0 L211.5 409.4 L212.0 408.0 L212.5 409.4 L213.0 415.0 L213.5 414.7 L214.0 417.3 L214.5 419.0 L215.0 423.9 L215.5 429.0 L216.0 427.4 L216.5 429.9 L217.0 434.0 L217.5 436.0 L218.0 433.1 L218.5 438.4 L219.0 438.8 L219.5 447.1 L220.0 448.1 L220.5 452.2 L221.0 460.1 L221.5 462.1 L222.0 463.8 L222.5 467.6 L223.0 470.0 L223.5 471.8 L224.0 474.1 L224.5 478.3 L225.0 481.0 L225.5 481.2 L226.0 482.1 L226.5 482.8 L227.0 483.9 L227.5 485.2 L228.2 487.3 L228.8 486.2 L229.5 487.5 L230.1 487.3 L230.8 487.9 L231.4 487.4 L232.0 488.1 L232.6 489.2 L233.2 488.3 L233.9 488.7 L234.5 489.3 L235.1 488.2 L235.8 490.2 L236.4 488.0 L237.0 488.7 L237.6 488.4 L238.2 490.2 L238.9 489.1 L239.5 489.3 L240.1 491.0 L240.8 490.0 L241.4 489.7 L242.0 490.3 L242.6 490.6 L243.2 490.2 L243.9 490.7 L244.5 490.8 L245.1 491.5 L245.8 491.4 L246.4 491.9 L247.1 491.7 L247.8 492.3 L248.5 492.2 L249.2 492.9 L249.9 492.9 L250.6 492.9 L251.3 493.2 L252.0 493.5 L252.7 493.5 L253.3 493.5 L254.0 493.5 L254.7 493.5 L255.3 493.5 L256.0 493.5 L256.7 493.5 L257.3 493.5 L258.0 493.5 L258.7 493.5 L259.3 493.5 L260.0 493.5 L260.7 493.5 L261.3 493.5 L262.0 493.5 Z" fill="#929292"/>
<path d="M189.0 493.5 L189.5 479.7 L190.0 465.4 L190.5 456.2 L191.0 445.0 L191.5 440.8 L192.0 441.7 L192.5 436.1 L193.0 430.9 L193.5 427.2 L194.0 427.8 L194.5 425.0 L195.0 418.3 L195.5 419.8 L196.0 408.2 L196.5 408.4 L197.0 407.8 L197.5 408.8 L198.0 398.5 L198.5 402.0 L199.0 404.5 L199.5 402.0 L200.0 394.7 L200.5 392.6 L201.0 387.1 L201.5 388.0 L202.0 384.5 L202.5 381.6 L203.0 387.0 L203.5 388.1 L204.0 382.7 L204.5 387.6 L205.0 388.7 L205.5 383.7 L206.0 389.7 L206.5 393.8 L207.0 395.0 L207.5 398.6 L208.0 398.0 L208.5 402.5 L209.0 399.4 L209.5 404.3 L210.0 404.5 L210.5 412.5 L211.0 413.0 L211.5 409.4 L212.0 408.0 L212.5 409.4 L213.0 415.0 L213.5 414.7 L214.0 417.3 L214.5 419.0 L215.0 423.9 L215.5 429.0 L216.0 427.4 L216.5 429.9 L217.0 434.0 L217.5 436.0 L218.0 433.1 L218.5 438.4 L219.0 438.8 L219.5 447.1 L220.0 448.1 L220.5 452.2 L221.0 460.1 L221.5 462.1 L222.0 463.8 L222.5 467.6 L223.0 470.0 L223.5 471.8 L224.0 474.1 L224.5 478.3 L225.0 481.0 L225.5 481.2 L226.0 482.1 L226.5 482.8 L227.0 483.9 L227.5 485.2 L228.2 487.3 L228.8 486.2 L229.5 487.5 L230.1 487.3 L230.8 487.9 L231.4 487.4 L232.0 488.1 L232.6 489.2 L233.2 488.3 L233.9 488.7 L234.5 489.3 L235.1 488.2 L235.8 490.2 L236.4 488.0 L237.0 488.7 L237.6 488.4 L238.2 490.2 L238.9 489.1 L239.5 489.3 L240.1 491.0 L240.8 490.0 L241.4 489.7 L242.0 490.3 L242.6 490.6 L243.2 490.2 L243.9 490.7 L244.5 490.8 L245.1 491.5 L245.8 491.4 L246.4 491.9 L247.1 491.7 L247.8 492.3 L248.5 492.2 L249.2 492.9 L249.9 492.9 L250.6 492.9 L251.3 493.2 L252.0 493.5 L252.7 493.5 L253.3 493.5 L254.0 493.5 L254.7 493.5 L255.3 493.5 L256.0 493.5 L256.7 493.5 L257.3 493.5 L258.0 493.5 L258.7 493.5 L259.3 493.5 L260.0 493.5 L260.7 493.5 L261.3 493.5 L262.0 493.5" fill="none" stroke="#fff" stroke-opacity="0.4" stroke-width="3.2" stroke-linejoin="round"/>
<path d="M189.0 493.5 L189.5 479.7 L190.0 465.4 L190.5 456.2 L191.0 445.0 L191.5 440.8 L192.0 441.7 L192.5 436.1 L193.0 430.9 L193.5 427.2 L194.0 427.8 L194.5 425.0 L195.0 418.3 L195.5 419.8 L196.0 408.2 L196.5 408.4 L197.0 407.8 L197.5 408.8 L198.0 398.5 L198.5 402.0 L199.0 404.5 L199.5 402.0 L200.0 394.7 L200.5 392.6 L201.0 387.1 L201.5 388.0 L202.0 384.5 L202.5 381.6 L203.0 387.0 L203.5 388.1 L204.0 382.7 L204.5 387.6 L205.0 388.7 L205.5 383.7 L206.0 389.7 L206.5 393.8 L207.0 395.0 L207.5 398.6 L208.0 398.0 L208.5 402.5 L209.0 399.4 L209.5 404.3 L210.0 404.5 L210.5 412.5 L211.0 413.0 L211.5 409.4 L212.0 408.0 L212.5 409.4 L213.0 415.0 L213.5 414.7 L214.0 417.3 L214.5 419.0 L215.0 423.9 L215.5 429.0 L216.0 427.4 L216.5 429.9 L217.0 434.0 L217.5 436.0 L218.0 433.1 L218.5 438.4 L219.0 438.8 L219.5 447.1 L220.0 448.1 L220.5 452.2 L221.0 460.1 L221.5 462.1 L222.0 463.8 L222.5 467.6 L223.0 470.0 L223.5 471.8 L224.0 474.1 L224.5 478.3 L225.0 481.0 L225.5 481.2 L226.0 482.1 L226.5 482.8 L227.0 483.9 L227.5 485.2 L228.2 487.3 L228.8 486.2 L229.5 487.5 L230.1 487.3 L230.8 487.9 L231.4 487.4 L232.0 488.1 L232.6 489.2 L233.2 488.3 L233.9 488.7 L234.5 489.3 L235.1 488.2 L235.8 490.2 L236.4 488.0 L237.0 488.7 L237.6 488.4 L238.2 490.2 L238.9 489.1 L239.5 489.3 L240.1 491.0 L240.8 490.0 L241.4 489.7 L242.0 490.3 L242.6 490.6 L243.2 490.2 L243.9 490.7 L244.5 490.8 L245.1 491.5 L245.8 491.4 L246.4 491.9 L247.1 491.7 L247.8 492.3 L248.5 492.2 L249.2 492.9 L249.9 492.9 L250.6 492.9 L251.3 493.2 L252.0 493.5 L252.7 493.5 L253.3 493.5 L254.0 493.5 L254.7 493.5 L255.3 493.5 L256.0 493.5 L256.7 493.5 L257.3 493.5 L258.0 493.5 L258.7 493.5 L259.3 493.5 L260.0 493.5 L260.7 493.5 L261.3 493.5 L262.0 493.5" fill="none" stroke="#0c0c0c" stroke-width="1.50" stroke-linejoin="round"/>
<path d="M189.0 491.2 L189.5 491.5 L190.0 486.6 L190.5 487.0 L191.2 484.4 L191.8 483.9 L192.5 481.6 L193.2 479.0 L193.8 476.5 L194.5 480.1 L195.0 474.6 L195.5 479.8 L196.0 470.9 L196.5 469.5 L197.0 479.5 L197.5 478.8 L198.0 480.3 L198.5 473.3 L199.0 476.1 L199.5 478.9 L200.0 475.6 L200.5 476.7 L201.0 474.4 L201.5 474.1 L202.0 473.9 L202.5 477.9 L203.0 478.1 L203.5 474.8 L204.0 472.0 L204.5 472.0 L205.0 468.4 L205.5 468.1 L206.0 469.8 L206.5 472.2 L207.0 469.4 L207.5 468.7 L208.0 465.9 L208.5 466.5 L209.0 466.9 L209.5 470.2 L210.0 467.9 L210.5 470.6 L211.0 463.5 L211.5 468.3 L212.0 460.7 L212.5 465.8 L213.0 464.4 L213.5 460.7 L214.0 461.1 L214.5 458.7 L215.0 462.4 L215.5 462.9 L216.0 461.7 L216.5 458.5 L217.0 456.1 L217.5 456.8 L218.0 459.3 L218.5 458.3 L219.0 457.5 L219.5 459.3 L220.0 450.9 L220.5 456.0 L221.0 458.8 L221.5 457.7 L222.0 461.9 L222.5 464.9 L223.0 451.0 L223.5 462.6 L224.0 452.2 L224.5 458.3 L225.0 445.9 L225.5 455.3 L226.0 447.7 L226.5 444.1 L227.0 448.2 L227.5 452.2 L228.0 447.9 L228.5 451.3 L229.0 447.2 L229.5 437.8 L230.0 448.7 L230.5 452.0 L231.0 447.9 L231.5 451.6 L232.0 436.9 L232.5 436.9 L233.0 431.3 L233.5 439.5 L234.0 434.1 L234.5 442.9 L235.0 440.9 L235.5 438.7 L236.0 431.8 L236.5 438.1 L237.0 437.5 L237.5 440.0 L238.0 422.4 L238.5 434.7 L239.0 427.1 L239.5 432.0 L240.0 441.3 L240.5 447.3 L241.0 439.1 L241.5 437.3 L242.0 446.7 L242.5 439.2 L243.0 446.0 L243.5 442.3 L244.0 438.4 L244.5 441.6 L245.0 453.6 L245.5 448.2 L246.0 450.8 L246.5 447.8 L247.0 451.0 L247.5 444.1 L248.0 442.8 L248.5 450.0 L249.0 454.6 L249.5 451.3 L250.0 456.0 L250.5 449.9 L251.0 460.6 L251.5 455.4 L252.0 457.2 L252.5 454.3 L253.0 458.0 L253.5 453.4 L254.0 450.4 L254.5 459.9 L255.0 459.7 L255.5 464.9 L256.0 460.2 L256.5 455.0 L257.0 460.6 L257.5 451.2 L258.0 465.7 L258.5 459.7 L259.0 463.0 L259.5 462.2 L260.0 455.7 L260.5 463.2 L261.0 467.9 L261.5 469.7 L262.0 463.7 L262.5 469.0 L263.0 473.6 L263.5 465.5 L264.0 466.9 L264.5 464.3 L265.0 468.5 L265.5 471.9 L266.0 475.4 L266.5 478.7 L267.0 476.3 L267.5 476.8 L268.0 479.4 L268.5 480.4 L269.0 479.7 L269.5 482.1 L270.0 482.8 L270.5 487.3 L271.0 482.6 L271.5 484.2 L272.0 489.3 L272.5 488.4 L273.0 488.2 L273.5 489.0 L274.0 488.4 L274.5 489.7 L275.1 491.1 L275.8 491.4 L276.4 489.1 L277.0 491.1 L277.6 490.9 L278.2 491.4 L278.9 492.4 L279.5 492.4 L280.1 493.5 L280.8 493.5" fill="none" stroke="#fff" stroke-opacity="0.4" stroke-width="2.6" stroke-linejoin="round"/>
<path d="M189.0 491.2 L189.5 491.5 L190.0 486.6 L190.5 487.0 L191.2 484.4 L191.8 483.9 L192.5 481.6 L193.2 479.0 L193.8 476.5 L194.5 480.1 L195.0 474.6 L195.5 479.8 L196.0 470.9 L196.5 469.5 L197.0 479.5 L197.5 478.8 L198.0 480.3 L198.5 473.3 L199.0 476.1 L199.5 478.9 L200.0 475.6 L200.5 476.7 L201.0 474.4 L201.5 474.1 L202.0 473.9 L202.5 477.9 L203.0 478.1 L203.5 474.8 L204.0 472.0 L204.5 472.0 L205.0 468.4 L205.5 468.1 L206.0 469.8 L206.5 472.2 L207.0 469.4 L207.5 468.7 L208.0 465.9 L208.5 466.5 L209.0 466.9 L209.5 470.2 L210.0 467.9 L210.5 470.6 L211.0 463.5 L211.5 468.3 L212.0 460.7 L212.5 465.8 L213.0 464.4 L213.5 460.7 L214.0 461.1 L214.5 458.7 L215.0 462.4 L215.5 462.9 L216.0 461.7 L216.5 458.5 L217.0 456.1 L217.5 456.8 L218.0 459.3 L218.5 458.3 L219.0 457.5 L219.5 459.3 L220.0 450.9 L220.5 456.0 L221.0 458.8 L221.5 457.7 L222.0 461.9 L222.5 464.9 L223.0 451.0 L223.5 462.6 L224.0 452.2 L224.5 458.3 L225.0 445.9 L225.5 455.3 L226.0 447.7 L226.5 444.1 L227.0 448.2 L227.5 452.2 L228.0 447.9 L228.5 451.3 L229.0 447.2 L229.5 437.8 L230.0 448.7 L230.5 452.0 L231.0 447.9 L231.5 451.6 L232.0 436.9 L232.5 436.9 L233.0 431.3 L233.5 439.5 L234.0 434.1 L234.5 442.9 L235.0 440.9 L235.5 438.7 L236.0 431.8 L236.5 438.1 L237.0 437.5 L237.5 440.0 L238.0 422.4 L238.5 434.7 L239.0 427.1 L239.5 432.0 L240.0 441.3 L240.5 447.3 L241.0 439.1 L241.5 437.3 L242.0 446.7 L242.5 439.2 L243.0 446.0 L243.5 442.3 L244.0 438.4 L244.5 441.6 L245.0 453.6 L245.5 448.2 L246.0 450.8 L246.5 447.8 L247.0 451.0 L247.5 444.1 L248.0 442.8 L248.5 450.0 L249.0 454.6 L249.5 451.3 L250.0 456.0 L250.5 449.9 L251.0 460.6 L251.5 455.4 L252.0 457.2 L252.5 454.3 L253.0 458.0 L253.5 453.4 L254.0 450.4 L254.5 459.9 L255.0 459.7 L255.5 464.9 L256.0 460.2 L256.5 455.0 L257.0 460.6 L257.5 451.2 L258.0 465.7 L258.5 459.7 L259.0 463.0 L259.5 462.2 L260.0 455.7 L260.5 463.2 L261.0 467.9 L261.5 469.7 L262.0 463.7 L262.5 469.0 L263.0 473.6 L263.5 465.5 L264.0 466.9 L264.5 464.3 L265.0 468.5 L265.5 471.9 L266.0 475.4 L266.5 478.7 L267.0 476.3 L267.5 476.8 L268.0 479.4 L268.5 480.4 L269.0 479.7 L269.5 482.1 L270.0 482.8 L270.5 487.3 L271.0 482.6 L271.5 484.2 L272.0 489.3 L272.5 488.4 L273.0 488.2 L273.5 489.0 L274.0 488.4 L274.5 489.7 L275.1 491.1 L275.8 491.4 L276.4 489.1 L277.0 491.1 L277.6 490.9 L278.2 491.4 L278.9 492.4 L279.5 492.4 L280.1 493.5 L280.8 493.5" fill="none" stroke="#0c0c0c" stroke-width="1.15" stroke-linejoin="round"/>
<path d="M188.6 358.1 V493.5 H316.2" fill="none" stroke="#000" stroke-width="1.3"/>
<path d="M188.6 358.1 h-2M188.6 392.0 h-2M188.6 425.8 h-2M188.6 459.6 h-2" stroke="#111" stroke-width="0.8"/>
<path d="M198.2 493.9 v1.3M203.8 493.9 v1.3M207.8 493.9 v1.3M210.9 493.9 v1.3M213.4 493.9 v1.3M215.6 493.9 v1.3M217.4 493.9 v1.3M219.0 493.9 v1.3M230.1 493.9 v1.3M235.7 493.9 v1.3M239.7 493.9 v1.3M242.8 493.9 v1.3M245.3 493.9 v1.3M247.5 493.9 v1.3M249.3 493.9 v1.3M250.9 493.9 v1.3M262.0 493.9 v1.3M267.6 493.9 v1.3M271.6 493.9 v1.3M274.7 493.9 v1.3M277.2 493.9 v1.3M279.4 493.9 v1.3M281.2 493.9 v1.3M282.8 493.9 v1.3M293.9 493.9 v1.3M299.5 493.9 v1.3M303.5 493.9 v1.3M306.6 493.9 v1.3M309.1 493.9 v1.3M311.3 493.9 v1.3M313.1 493.9 v1.3M314.7 493.9 v1.3M188.6 493.9 v2M220.5 493.9 v2M252.4 493.9 v2M284.3 493.9 v2M316.2 493.9 v2" stroke="#222" stroke-width="0.5"/>
<text x="185.1" y="503.6" class="tk">10<tspan dx="0" dy="-3.4" class="sup">0</tspan></text>
<text x="217.0" y="503.6" class="tk">10<tspan dx="0" dy="-3.4" class="sup">1</tspan></text>
<text x="248.9" y="503.6" class="tk">10<tspan dx="0" dy="-3.4" class="sup">2</tspan></text>
<text x="280.8" y="503.6" class="tk">10<tspan dx="0" dy="-3.4" class="sup">3</tspan></text>
<text x="312.7" y="503.6" class="tk">10<tspan dx="0" dy="-3.4" class="sup">4</tspan></text>
<text x="253.9" y="514.7" class="fl" text-anchor="middle">FL1-H</text>
<text transform="translate(184.6 361.8) rotate(-90)" class="yl">32</text>
<text transform="translate(184.3 495.1) rotate(-90)" class="yl">0</text>
<text transform="translate(177.4 422.4) rotate(-90)" class="ev" text-anchor="middle">Events</text>
<text x="246.65" y="399.5" class="ti">G/7F5</text>
</g>
<g>
<path d="M362.0 493.5 L362.5 465.3 L363.0 456.8 L363.5 447.4 L364.0 443.9 L364.5 438.6 L365.0 435.5 L365.5 433.1 L366.0 428.9 L366.5 421.3 L367.0 417.4 L367.5 414.4 L368.0 408.8 L368.5 408.7 L369.0 404.6 L369.5 402.6 L370.0 397.9 L370.5 388.8 L371.0 386.8 L371.5 383.0 L372.0 373.1 L372.5 382.3 L373.0 388.4 L373.5 387.5 L374.0 392.1 L374.5 392.3 L375.0 384.5 L375.5 388.3 L376.0 397.9 L376.5 397.0 L377.0 391.5 L377.5 392.8 L378.0 390.1 L378.5 395.7 L379.0 402.5 L379.5 404.0 L380.0 403.9 L380.5 405.9 L381.0 403.9 L381.5 403.3 L382.0 409.4 L382.5 407.6 L383.0 410.2 L383.5 412.6 L384.0 418.4 L384.5 413.6 L385.0 414.2 L385.5 411.6 L386.0 412.6 L386.5 421.1 L387.0 425.1 L387.5 428.6 L388.0 428.9 L388.5 429.4 L389.0 430.9 L389.5 431.6 L390.0 437.7 L390.5 438.3 L391.0 442.8 L391.5 443.3 L392.0 442.2 L392.5 443.4 L393.0 448.0 L393.5 448.2 L394.0 453.0 L394.5 455.4 L395.0 456.8 L395.5 463.3 L396.0 462.0 L396.5 465.8 L397.0 466.8 L397.5 468.4 L398.0 471.8 L398.5 474.0 L399.0 476.5 L399.5 476.9 L400.0 477.0 L400.5 478.5 L401.2 479.2 L401.8 481.3 L402.5 481.1 L403.2 483.4 L403.8 483.8 L404.5 483.5 L405.2 485.6 L405.8 483.4 L406.5 486.3 L407.2 485.9 L407.8 487.0 L408.5 487.8 L409.1 487.8 L409.8 488.0 L410.4 489.4 L411.0 488.6 L411.7 488.7 L412.4 490.4 L413.1 490.6 L413.8 490.5 L414.4 491.3 L415.0 492.0 L415.6 492.1 L416.2 492.5 L416.9 493.1 L417.5 493.5 Z" fill="#929292"/>
<path d="M362.0 493.5 L362.5 465.3 L363.0 456.8 L363.5 447.4 L364.0 443.9 L364.5 438.6 L365.0 435.5 L365.5 433.1 L366.0 428.9 L366.5 421.3 L367.0 417.4 L367.5 414.4 L368.0 408.8 L368.5 408.7 L369.0 404.6 L369.5 402.6 L370.0 397.9 L370.5 388.8 L371.0 386.8 L371.5 383.0 L372.0 373.1 L372.5 382.3 L373.0 388.4 L373.5 387.5 L374.0 392.1 L374.5 392.3 L375.0 384.5 L375.5 388.3 L376.0 397.9 L376.5 397.0 L377.0 391.5 L377.5 392.8 L378.0 390.1 L378.5 395.7 L379.0 402.5 L379.5 404.0 L380.0 403.9 L380.5 405.9 L381.0 403.9 L381.5 403.3 L382.0 409.4 L382.5 407.6 L383.0 410.2 L383.5 412.6 L384.0 418.4 L384.5 413.6 L385.0 414.2 L385.5 411.6 L386.0 412.6 L386.5 421.1 L387.0 425.1 L387.5 428.6 L388.0 428.9 L388.5 429.4 L389.0 430.9 L389.5 431.6 L390.0 437.7 L390.5 438.3 L391.0 442.8 L391.5 443.3 L392.0 442.2 L392.5 443.4 L393.0 448.0 L393.5 448.2 L394.0 453.0 L394.5 455.4 L395.0 456.8 L395.5 463.3 L396.0 462.0 L396.5 465.8 L397.0 466.8 L397.5 468.4 L398.0 471.8 L398.5 474.0 L399.0 476.5 L399.5 476.9 L400.0 477.0 L400.5 478.5 L401.2 479.2 L401.8 481.3 L402.5 481.1 L403.2 483.4 L403.8 483.8 L404.5 483.5 L405.2 485.6 L405.8 483.4 L406.5 486.3 L407.2 485.9 L407.8 487.0 L408.5 487.8 L409.1 487.8 L409.8 488.0 L410.4 489.4 L411.0 488.6 L411.7 488.7 L412.4 490.4 L413.1 490.6 L413.8 490.5 L414.4 491.3 L415.0 492.0 L415.6 492.1 L416.2 492.5 L416.9 493.1 L417.5 493.5" fill="none" stroke="#fff" stroke-opacity="0.4" stroke-width="3.2" stroke-linejoin="round"/>
<path d="M362.0 493.5 L362.5 465.3 L363.0 456.8 L363.5 447.4 L364.0 443.9 L364.5 438.6 L365.0 435.5 L365.5 433.1 L366.0 428.9 L366.5 421.3 L367.0 417.4 L367.5 414.4 L368.0 408.8 L368.5 408.7 L369.0 404.6 L369.5 402.6 L370.0 397.9 L370.5 388.8 L371.0 386.8 L371.5 383.0 L372.0 373.1 L372.5 382.3 L373.0 388.4 L373.5 387.5 L374.0 392.1 L374.5 392.3 L375.0 384.5 L375.5 388.3 L376.0 397.9 L376.5 397.0 L377.0 391.5 L377.5 392.8 L378.0 390.1 L378.5 395.7 L379.0 402.5 L379.5 404.0 L380.0 403.9 L380.5 405.9 L381.0 403.9 L381.5 403.3 L382.0 409.4 L382.5 407.6 L383.0 410.2 L383.5 412.6 L384.0 418.4 L384.5 413.6 L385.0 414.2 L385.5 411.6 L386.0 412.6 L386.5 421.1 L387.0 425.1 L387.5 428.6 L388.0 428.9 L388.5 429.4 L389.0 430.9 L389.5 431.6 L390.0 437.7 L390.5 438.3 L391.0 442.8 L391.5 443.3 L392.0 442.2 L392.5 443.4 L393.0 448.0 L393.5 448.2 L394.0 453.0 L394.5 455.4 L395.0 456.8 L395.5 463.3 L396.0 462.0 L396.5 465.8 L397.0 466.8 L397.5 468.4 L398.0 471.8 L398.5 474.0 L399.0 476.5 L399.5 476.9 L400.0 477.0 L400.5 478.5 L401.2 479.2 L401.8 481.3 L402.5 481.1 L403.2 483.4 L403.8 483.8 L404.5 483.5 L405.2 485.6 L405.8 483.4 L406.5 486.3 L407.2 485.9 L407.8 487.0 L408.5 487.8 L409.1 487.8 L409.8 488.0 L410.4 489.4 L411.0 488.6 L411.7 488.7 L412.4 490.4 L413.1 490.6 L413.8 490.5 L414.4 491.3 L415.0 492.0 L415.6 492.1 L416.2 492.5 L416.9 493.1 L417.5 493.5" fill="none" stroke="#0c0c0c" stroke-width="1.50" stroke-linejoin="round"/>
<path d="M371.2 493.5 L371.8 492.1 L372.4 489.5 L373.0 489.2 L373.5 485.0 L374.0 486.1 L374.5 486.4 L375.0 481.1 L375.5 481.6 L376.0 478.1 L376.5 476.3 L377.0 473.6 L377.5 475.1 L378.0 472.8 L378.5 478.8 L379.0 471.5 L379.5 470.8 L380.0 469.9 L380.5 468.3 L381.0 469.7 L381.5 460.5 L382.0 467.7 L382.5 462.3 L383.0 459.1 L383.5 457.8 L384.0 457.5 L384.5 451.5 L385.0 457.8 L385.5 455.6 L386.0 459.6 L386.5 457.7 L387.0 457.4 L387.5 464.4 L388.0 455.4 L388.5 454.0 L389.0 448.9 L389.5 454.7 L390.0 444.6 L390.5 444.9 L391.0 452.0 L391.5 445.7 L392.0 452.7 L392.5 445.9 L393.0 451.9 L393.5 447.0 L394.0 436.0 L394.5 428.5 L395.0 431.5 L395.5 427.7 L396.0 422.1 L396.5 411.8 L397.0 420.5 L397.5 426.8 L398.0 424.3 L398.5 419.8 L399.0 421.0 L399.5 414.3 L400.0 426.2 L400.5 422.5 L401.0 411.5 L401.5 414.8 L402.0 416.0 L402.5 411.2 L403.0 413.6 L403.5 423.5 L404.0 426.1 L404.5 427.1 L405.0 429.4 L405.5 428.7 L406.0 430.1 L406.5 437.6 L407.0 435.1 L407.5 428.5 L408.0 430.7 L408.5 437.0 L409.0 438.2 L409.5 439.8 L410.0 429.1 L410.5 426.0 L411.0 429.5 L411.5 443.3 L412.0 440.9 L412.5 432.8 L413.0 434.9 L413.5 435.5 L414.0 445.2 L414.5 434.9 L415.0 430.5 L415.5 436.9 L416.0 429.7 L416.5 437.2 L417.0 442.9 L417.5 429.6 L418.0 428.9 L418.5 439.6 L419.0 443.2 L419.5 443.3 L420.0 450.6 L420.5 456.9 L421.0 453.5 L421.5 456.3 L422.0 457.4 L422.5 458.0 L423.0 457.7 L423.5 464.4 L424.0 467.8 L424.5 464.5 L425.0 464.6 L425.5 471.6 L426.0 472.6 L426.5 477.4 L427.0 477.2 L427.5 477.4 L428.0 476.2 L428.5 483.1 L429.0 483.8 L429.5 482.6 L430.0 483.6 L430.5 486.5 L431.2 489.3 L431.8 488.6 L432.5 488.6 L433.1 489.3 L433.8 489.9 L434.4 490.8 L435.0 491.3 L435.6 491.3 L436.2 492.6 L436.9 493.1 L437.5 492.6 L438.1 493.5 L438.8 493.5" fill="none" stroke="#fff" stroke-opacity="0.4" stroke-width="2.6" stroke-linejoin="round"/>
<path d="M371.2 493.5 L371.8 492.1 L372.4 489.5 L373.0 489.2 L373.5 485.0 L374.0 486.1 L374.5 486.4 L375.0 481.1 L375.5 481.6 L376.0 478.1 L376.5 476.3 L377.0 473.6 L377.5 475.1 L378.0 472.8 L378.5 478.8 L379.0 471.5 L379.5 470.8 L380.0 469.9 L380.5 468.3 L381.0 469.7 L381.5 460.5 L382.0 467.7 L382.5 462.3 L383.0 459.1 L383.5 457.8 L384.0 457.5 L384.5 451.5 L385.0 457.8 L385.5 455.6 L386.0 459.6 L386.5 457.7 L387.0 457.4 L387.5 464.4 L388.0 455.4 L388.5 454.0 L389.0 448.9 L389.5 454.7 L390.0 444.6 L390.5 444.9 L391.0 452.0 L391.5 445.7 L392.0 452.7 L392.5 445.9 L393.0 451.9 L393.5 447.0 L394.0 436.0 L394.5 428.5 L395.0 431.5 L395.5 427.7 L396.0 422.1 L396.5 411.8 L397.0 420.5 L397.5 426.8 L398.0 424.3 L398.5 419.8 L399.0 421.0 L399.5 414.3 L400.0 426.2 L400.5 422.5 L401.0 411.5 L401.5 414.8 L402.0 416.0 L402.5 411.2 L403.0 413.6 L403.5 423.5 L404.0 426.1 L404.5 427.1 L405.0 429.4 L405.5 428.7 L406.0 430.1 L406.5 437.6 L407.0 435.1 L407.5 428.5 L408.0 430.7 L408.5 437.0 L409.0 438.2 L409.5 439.8 L410.0 429.1 L410.5 426.0 L411.0 429.5 L411.5 443.3 L412.0 440.9 L412.5 432.8 L413.0 434.9 L413.5 435.5 L414.0 445.2 L414.5 434.9 L415.0 430.5 L415.5 436.9 L416.0 429.7 L416.5 437.2 L417.0 442.9 L417.5 429.6 L418.0 428.9 L418.5 439.6 L419.0 443.2 L419.5 443.3 L420.0 450.6 L420.5 456.9 L421.0 453.5 L421.5 456.3 L422.0 457.4 L422.5 458.0 L423.0 457.7 L423.5 464.4 L424.0 467.8 L424.5 464.5 L425.0 464.6 L425.5 471.6 L426.0 472.6 L426.5 477.4 L427.0 477.2 L427.5 477.4 L428.0 476.2 L428.5 483.1 L429.0 483.8 L429.5 482.6 L430.0 483.6 L430.5 486.5 L431.2 489.3 L431.8 488.6 L432.5 488.6 L433.1 489.3 L433.8 489.9 L434.4 490.8 L435.0 491.3 L435.6 491.3 L436.2 492.6 L436.9 493.1 L437.5 492.6 L438.1 493.5 L438.8 493.5" fill="none" stroke="#0c0c0c" stroke-width="1.15" stroke-linejoin="round"/>
<path d="M361.5 358.1 V493.5 H489.1" fill="none" stroke="#000" stroke-width="1.3"/>
<path d="M361.5 358.1 h-2M361.5 392.0 h-2M361.5 425.8 h-2M361.5 459.6 h-2" stroke="#111" stroke-width="0.8"/>
<path d="M371.1 493.9 v1.3M376.7 493.9 v1.3M380.7 493.9 v1.3M383.8 493.9 v1.3M386.3 493.9 v1.3M388.5 493.9 v1.3M390.3 493.9 v1.3M391.9 493.9 v1.3M403.0 493.9 v1.3M408.6 493.9 v1.3M412.6 493.9 v1.3M415.7 493.9 v1.3M418.2 493.9 v1.3M420.4 493.9 v1.3M422.2 493.9 v1.3M423.8 493.9 v1.3M434.9 493.9 v1.3M440.5 493.9 v1.3M444.5 493.9 v1.3M447.6 493.9 v1.3M450.1 493.9 v1.3M452.3 493.9 v1.3M454.1 493.9 v1.3M455.7 493.9 v1.3M466.8 493.9 v1.3M472.4 493.9 v1.3M476.4 493.9 v1.3M479.5 493.9 v1.3M482.0 493.9 v1.3M484.2 493.9 v1.3M486.0 493.9 v1.3M487.6 493.9 v1.3M361.5 493.9 v2M393.4 493.9 v2M425.3 493.9 v2M457.2 493.9 v2M489.1 493.9 v2" stroke="#222" stroke-width="0.5"/>
<text x="358.0" y="503.6" class="tk">10<tspan dx="0" dy="-3.4" class="sup">0</tspan></text>
<text x="389.9" y="503.6" class="tk">10<tspan dx="0" dy="-3.4" class="sup">1</tspan></text>
<text x="421.8" y="503.6" class="tk">10<tspan dx="0" dy="-3.4" class="sup">2</tspan></text>
<text x="453.7" y="503.6" class="tk">10<tspan dx="0" dy="-3.4" class="sup">3</tspan></text>
<text x="485.6" y="503.6" class="tk">10<tspan dx="0" dy="-3.4" class="sup">4</tspan></text>
<text x="426.8" y="514.7" class="fl" text-anchor="middle">FL1-H</text>
<text transform="translate(357.5 361.8) rotate(-90)" class="yl">32</text>
<text transform="translate(357.2 495.1) rotate(-90)" class="yl">0</text>
<text transform="translate(350.3 422.4) rotate(-90)" class="ev" text-anchor="middle">Events</text>
<text x="423.95" y="399.5" class="ti" textLength="64.3">G/1C11</text>
</g>
<g>
<path d="M19.0 663.0 L19.5 609.9 L20.0 585.6 L20.5 566.2 L21.1 554.7 L21.6 551.7 L22.2 544.7 L22.9 539.4 L23.5 536.0 L24.2 529.6 L24.9 541.5 L25.4 539.0 L25.8 534.4 L26.3 533.2 L27.0 532.2 L27.7 529.0 L28.2 529.7 L28.6 535.2 L29.1 535.0 L29.8 531.3 L30.5 529.8 L31.1 529.4 L31.8 540.2 L32.4 543.3 L32.9 547.2 L33.5 559.2 L34.0 560.6 L34.5 561.6 L35.0 562.8 L35.5 565.3 L36.0 569.3 L36.5 573.5 L37.0 575.5 L37.5 574.4 L38.0 577.6 L38.5 587.9 L39.0 585.9 L39.5 591.3 L40.0 596.1 L40.5 596.2 L41.0 604.8 L41.5 606.5 L42.0 608.9 L42.5 610.3 L43.0 617.8 L43.5 614.4 L44.0 620.0 L44.5 619.1 L45.0 627.4 L45.5 627.4 L46.0 632.5 L46.5 630.3 L47.0 631.8 L47.5 633.8 L48.0 638.8 L48.5 639.6 L49.0 642.5 L49.5 643.1 L50.0 645.9 L50.5 647.6 L51.0 652.3 L51.5 652.1 L52.0 653.6 L52.5 654.9 L53.0 654.8 L53.5 654.5 L54.0 657.9 L54.5 658.0 L55.2 656.9 L55.8 655.7 L56.5 656.5 L57.1 657.2 L57.8 657.5 L58.4 658.8 L59.0 659.5 L59.6 659.7 L60.2 659.7 L60.8 659.8 L61.4 660.9 L62.0 660.8 L62.6 661.6 L63.2 659.6 L63.9 660.6 L64.5 660.6 L65.1 661.7 L65.8 661.6 L66.4 661.2 L67.0 661.3 L67.7 661.1 L68.4 661.4 L69.0 661.6 L69.7 661.0 L70.4 662.6 L71.1 662.4 L71.8 662.9 L72.5 662.8 L73.1 662.8 L73.8 662.8 L74.5 663.0 Z" fill="#929292"/>
<path d="M19.0 663.0 L19.5 609.9 L20.0 585.6 L20.5 566.2 L21.1 554.7 L21.6 551.7 L22.2 544.7 L22.9 539.4 L23.5 536.0 L24.2 529.6 L24.9 541.5 L25.4 539.0 L25.8 534.4 L26.3 533.2 L27.0 532.2 L27.7 529.0 L28.2 529.7 L28.6 535.2 L29.1 535.0 L29.8 531.3 L30.5 529.8 L31.1 529.4 L31.8 540.2 L32.4 543.3 L32.9 547.2 L33.5 559.2 L34.0 560.6 L34.5 561.6 L35.0 562.8 L35.5 565.3 L36.0 569.3 L36.5 573.5 L37.0 575.5 L37.5 574.4 L38.0 577.6 L38.5 587.9 L39.0 585.9 L39.5 591.3 L40.0 596.1 L40.5 596.2 L41.0 604.8 L41.5 606.5 L42.0 608.9 L42.5 610.3 L43.0 617.8 L43.5 614.4 L44.0 620.0 L44.5 619.1 L45.0 627.4 L45.5 627.4 L46.0 632.5 L46.5 630.3 L47.0 631.8 L47.5 633.8 L48.0 638.8 L48.5 639.6 L49.0 642.5 L49.5 643.1 L50.0 645.9 L50.5 647.6 L51.0 652.3 L51.5 652.1 L52.0 653.6 L52.5 654.9 L53.0 654.8 L53.5 654.5 L54.0 657.9 L54.5 658.0 L55.2 656.9 L55.8 655.7 L56.5 656.5 L57.1 657.2 L57.8 657.5 L58.4 658.8 L59.0 659.5 L59.6 659.7 L60.2 659.7 L60.8 659.8 L61.4 660.9 L62.0 660.8 L62.6 661.6 L63.2 659.6 L63.9 660.6 L64.5 660.6 L65.1 661.7 L65.8 661.6 L66.4 661.2 L67.0 661.3 L67.7 661.1 L68.4 661.4 L69.0 661.6 L69.7 661.0 L70.4 662.6 L71.1 662.4 L71.8 662.9 L72.5 662.8 L73.1 662.8 L73.8 662.8 L74.5 663.0" fill="none" stroke="#fff" stroke-opacity="0.4" stroke-width="3.2" stroke-linejoin="round"/>
<path d="M19.0 663.0 L19.5 609.9 L20.0 585.6 L20.5 566.2 L21.1 554.7 L21.6 551.7 L22.2 544.7 L22.9 539.4 L23.5 536.0 L24.2 529.6 L24.9 541.5 L25.4 539.0 L25.8 534.4 L26.3 533.2 L27.0 532.2 L27.7 529.0 L28.2 529.7 L28.6 535.2 L29.1 535.0 L29.8 531.3 L30.5 529.8 L31.1 529.4 L31.8 540.2 L32.4 543.3 L32.9 547.2 L33.5 559.2 L34.0 560.6 L34.5 561.6 L35.0 562.8 L35.5 565.3 L36.0 569.3 L36.5 573.5 L37.0 575.5 L37.5 574.4 L38.0 577.6 L38.5 587.9 L39.0 585.9 L39.5 591.3 L40.0 596.1 L40.5 596.2 L41.0 604.8 L41.5 606.5 L42.0 608.9 L42.5 610.3 L43.0 617.8 L43.5 614.4 L44.0 620.0 L44.5 619.1 L45.0 627.4 L45.5 627.4 L46.0 632.5 L46.5 630.3 L47.0 631.8 L47.5 633.8 L48.0 638.8 L48.5 639.6 L49.0 642.5 L49.5 643.1 L50.0 645.9 L50.5 647.6 L51.0 652.3 L51.5 652.1 L52.0 653.6 L52.5 654.9 L53.0 654.8 L53.5 654.5 L54.0 657.9 L54.5 658.0 L55.2 656.9 L55.8 655.7 L56.5 656.5 L57.1 657.2 L57.8 657.5 L58.4 658.8 L59.0 659.5 L59.6 659.7 L60.2 659.7 L60.8 659.8 L61.4 660.9 L62.0 660.8 L62.6 661.6 L63.2 659.6 L63.9 660.6 L64.5 660.6 L65.1 661.7 L65.8 661.6 L66.4 661.2 L67.0 661.3 L67.7 661.1 L68.4 661.4 L69.0 661.6 L69.7 661.0 L70.4 662.6 L71.1 662.4 L71.8 662.9 L72.5 662.8 L73.1 662.8 L73.8 662.8 L74.5 663.0" fill="none" stroke="#0c0c0c" stroke-width="1.50" stroke-linejoin="round"/>
<path d="M19.0 661.2 L19.7 661.3 L20.3 657.5 L21.0 658.3 L21.7 659.2 L22.3 656.5 L23.0 655.3 L23.5 654.9 L24.0 651.2 L24.5 652.5 L25.0 656.5 L25.5 651.9 L26.0 654.7 L26.5 654.4 L27.0 651.6 L27.5 650.1 L28.0 645.3 L28.5 644.0 L29.0 640.0 L29.5 643.2 L30.0 648.5 L30.5 645.2 L31.0 643.6 L31.5 644.2 L32.0 641.3 L32.5 644.4 L33.0 638.9 L33.5 642.0 L34.0 645.5 L34.5 635.9 L35.0 635.3 L35.5 632.9 L36.0 634.4 L36.5 634.0 L37.0 633.0 L37.5 624.4 L38.0 628.6 L38.5 627.1 L39.0 636.6 L39.5 633.4 L40.0 631.4 L40.5 625.4 L41.0 623.0 L41.5 627.3 L42.0 622.4 L42.5 626.1 L43.0 627.9 L43.5 621.2 L44.0 619.9 L44.5 613.9 L45.0 621.3 L45.5 615.8 L46.0 616.5 L46.5 619.2 L47.0 607.2 L47.5 611.7 L48.0 616.2 L48.5 615.5 L49.0 613.8 L49.5 612.1 L50.0 604.8 L50.5 608.7 L51.0 616.3 L51.5 612.4 L52.0 610.2 L52.5 613.9 L53.0 605.7 L53.5 606.2 L54.0 602.7 L54.5 603.6 L55.0 608.6 L55.5 610.4 L56.0 603.4 L56.5 602.3 L57.0 606.5 L57.5 599.7 L58.0 611.1 L58.5 603.3 L59.0 605.5 L59.5 608.7 L60.0 609.7 L60.5 613.6 L61.0 617.2 L61.5 620.3 L62.0 621.4 L62.5 609.0 L63.0 613.5 L63.5 600.2 L64.0 608.8 L64.5 615.3 L65.0 607.3 L65.5 613.2 L66.0 613.9 L66.5 606.6 L67.0 603.8 L67.5 613.6 L68.0 600.9 L68.5 609.0 L69.0 608.9 L69.5 600.7 L70.0 598.0 L70.5 610.0 L71.0 610.7 L71.5 619.1 L72.0 615.1 L72.5 610.4 L73.0 613.4 L73.5 618.6 L74.0 620.3 L74.5 614.8 L75.0 633.5 L75.5 624.0 L76.0 622.1 L76.5 628.8 L77.0 627.7 L77.5 635.7 L78.0 633.2 L78.5 635.4 L79.0 636.3 L79.5 629.7 L80.0 629.5 L80.5 631.6 L81.0 638.9 L81.5 637.1 L82.0 640.1 L82.5 632.1 L83.0 633.4 L83.5 635.9 L84.0 641.8 L84.5 642.5 L85.0 640.6 L85.5 635.9 L86.0 636.5 L86.5 636.5 L87.0 639.9 L87.5 640.7 L88.0 638.9 L88.5 640.8 L89.0 644.9 L89.5 647.4 L90.0 639.3 L90.5 640.1 L91.0 640.4 L91.5 644.3 L92.0 646.5 L92.5 644.4 L93.0 647.2 L93.5 643.9 L94.0 646.6 L94.5 645.3 L95.0 649.8 L95.5 651.6 L96.0 646.2 L96.5 651.3 L97.0 652.1 L97.5 651.9 L98.0 652.7 L98.5 653.7 L99.0 650.6 L99.5 653.7 L100.0 655.8 L100.5 657.7 L101.0 655.4 L101.5 655.7 L102.0 654.9 L102.5 657.5 L103.2 656.5 L103.8 657.3 L104.5 659.6 L105.1 662.2 L105.8 657.1 L106.4 661.7 L107.0 659.6 L107.6 661.0 L108.2 660.8 L108.8 662.0 L109.4 660.8 L110.0 661.0 L110.7 661.5 L111.3 662.5 L112.0 661.8 L112.6 662.8 L113.2 663.0" fill="none" stroke="#fff" stroke-opacity="0.4" stroke-width="2.6" stroke-linejoin="round"/>
<path d="M19.0 661.2 L19.7 661.3 L20.3 657.5 L21.0 658.3 L21.7 659.2 L22.3 656.5 L23.0 655.3 L23.5 654.9 L24.0 651.2 L24.5 652.5 L25.0 656.5 L25.5 651.9 L26.0 654.7 L26.5 654.4 L27.0 651.6 L27.5 650.1 L28.0 645.3 L28.5 644.0 L29.0 640.0 L29.5 643.2 L30.0 648.5 L30.5 645.2 L31.0 643.6 L31.5 644.2 L32.0 641.3 L32.5 644.4 L33.0 638.9 L33.5 642.0 L34.0 645.5 L34.5 635.9 L35.0 635.3 L35.5 632.9 L36.0 634.4 L36.5 634.0 L37.0 633.0 L37.5 624.4 L38.0 628.6 L38.5 627.1 L39.0 636.6 L39.5 633.4 L40.0 631.4 L40.5 625.4 L41.0 623.0 L41.5 627.3 L42.0 622.4 L42.5 626.1 L43.0 627.9 L43.5 621.2 L44.0 619.9 L44.5 613.9 L45.0 621.3 L45.5 615.8 L46.0 616.5 L46.5 619.2 L47.0 607.2 L47.5 611.7 L48.0 616.2 L48.5 615.5 L49.0 613.8 L49.5 612.1 L50.0 604.8 L50.5 608.7 L51.0 616.3 L51.5 612.4 L52.0 610.2 L52.5 613.9 L53.0 605.7 L53.5 606.2 L54.0 602.7 L54.5 603.6 L55.0 608.6 L55.5 610.4 L56.0 603.4 L56.5 602.3 L57.0 606.5 L57.5 599.7 L58.0 611.1 L58.5 603.3 L59.0 605.5 L59.5 608.7 L60.0 609.7 L60.5 613.6 L61.0 617.2 L61.5 620.3 L62.0 621.4 L62.5 609.0 L63.0 613.5 L63.5 600.2 L64.0 608.8 L64.5 615.3 L65.0 607.3 L65.5 613.2 L66.0 613.9 L66.5 606.6 L67.0 603.8 L67.5 613.6 L68.0 600.9 L68.5 609.0 L69.0 608.9 L69.5 600.7 L70.0 598.0 L70.5 610.0 L71.0 610.7 L71.5 619.1 L72.0 615.1 L72.5 610.4 L73.0 613.4 L73.5 618.6 L74.0 620.3 L74.5 614.8 L75.0 633.5 L75.5 624.0 L76.0 622.1 L76.5 628.8 L77.0 627.7 L77.5 635.7 L78.0 633.2 L78.5 635.4 L79.0 636.3 L79.5 629.7 L80.0 629.5 L80.5 631.6 L81.0 638.9 L81.5 637.1 L82.0 640.1 L82.5 632.1 L83.0 633.4 L83.5 635.9 L84.0 641.8 L84.5 642.5 L85.0 640.6 L85.5 635.9 L86.0 636.5 L86.5 636.5 L87.0 639.9 L87.5 640.7 L88.0 638.9 L88.5 640.8 L89.0 644.9 L89.5 647.4 L90.0 639.3 L90.5 640.1 L91.0 640.4 L91.5 644.3 L92.0 646.5 L92.5 644.4 L93.0 647.2 L93.5 643.9 L94.0 646.6 L94.5 645.3 L95.0 649.8 L95.5 651.6 L96.0 646.2 L96.5 651.3 L97.0 652.1 L97.5 651.9 L98.0 652.7 L98.5 653.7 L99.0 650.6 L99.5 653.7 L100.0 655.8 L100.5 657.7 L101.0 655.4 L101.5 655.7 L102.0 654.9 L102.5 657.5 L103.2 656.5 L103.8 657.3 L104.5 659.6 L105.1 662.2 L105.8 657.1 L106.4 661.7 L107.0 659.6 L107.6 661.0 L108.2 660.8 L108.8 662.0 L109.4 660.8 L110.0 661.0 L110.7 661.5 L111.3 662.5 L112.0 661.8 L112.6 662.8 L113.2 663.0" fill="none" stroke="#0c0c0c" stroke-width="1.15" stroke-linejoin="round"/>
<path d="M19.1 527.0 V663.0 H146.7" fill="none" stroke="#000" stroke-width="1.3"/>
<path d="M19.1 527.0 h-2M19.1 561.0 h-2M19.1 595.0 h-2M19.1 629.0 h-2" stroke="#111" stroke-width="0.8"/>
<path d="M28.7 663.4 v1.3M34.3 663.4 v1.3M38.3 663.4 v1.3M41.4 663.4 v1.3M43.9 663.4 v1.3M46.1 663.4 v1.3M47.9 663.4 v1.3M49.5 663.4 v1.3M60.6 663.4 v1.3M66.2 663.4 v1.3M70.2 663.4 v1.3M73.3 663.4 v1.3M75.8 663.4 v1.3M78.0 663.4 v1.3M79.8 663.4 v1.3M81.4 663.4 v1.3M92.5 663.4 v1.3M98.1 663.4 v1.3M102.1 663.4 v1.3M105.2 663.4 v1.3M107.7 663.4 v1.3M109.9 663.4 v1.3M111.7 663.4 v1.3M113.3 663.4 v1.3M124.4 663.4 v1.3M130.0 663.4 v1.3M134.0 663.4 v1.3M137.1 663.4 v1.3M139.6 663.4 v1.3M141.8 663.4 v1.3M143.6 663.4 v1.3M145.2 663.4 v1.3M19.1 663.4 v2M51.0 663.4 v2M82.9 663.4 v2M114.8 663.4 v2M146.7 663.4 v2" stroke="#222" stroke-width="0.5"/>
<text x="15.6" y="673.1" class="tk">10<tspan dx="0" dy="-3.4" class="sup">0</tspan></text>
<text x="47.5" y="673.1" class="tk">10<tspan dx="0" dy="-3.4" class="sup">1</tspan></text>
<text x="79.4" y="673.1" class="tk">10<tspan dx="0" dy="-3.4" class="sup">2</tspan></text>
<text x="111.3" y="673.1" class="tk">10<tspan dx="0" dy="-3.4" class="sup">3</tspan></text>
<text x="143.2" y="673.1" class="tk">10<tspan dx="0" dy="-3.4" class="sup">4</tspan></text>
<text x="84.4" y="684.2" class="fl" text-anchor="middle">FL1-H</text>
<text transform="translate(15.1 530.7) rotate(-90)" class="yl">32</text>
<text transform="translate(14.8 664.6) rotate(-90)" class="yl">0</text>
<text transform="translate(7.9 591.6) rotate(-90)" class="ev" text-anchor="middle">Events</text>
<text x="81.40" y="554.8" class="ti">polyclonal</text>
</g>
<g>
<path d="M188.6 662.8 L189.1 609.5 L189.5 588.1 L189.9 565.8 L190.4 556.8 L190.8 544.9 L191.5 538.4 L192.1 534.7 L192.8 532.0 L193.4 529.6 L194.1 528.6 L194.8 538.2 L195.4 531.1 L196.1 532.0 L196.7 538.1 L197.4 540.7 L198.0 538.4 L198.7 529.6 L199.1 535.9 L199.6 543.0 L200.2 534.2 L200.9 532.6 L201.3 537.3 L201.8 549.7 L202.4 551.7 L203.1 548.4 L203.7 553.5 L204.4 560.7 L205.0 569.5 L205.7 568.8 L206.4 567.4 L207.0 576.8 L207.7 575.4 L208.3 578.7 L209.0 581.8 L209.6 587.1 L210.3 592.6 L210.9 592.8 L211.6 600.8 L212.3 607.1 L212.9 615.7 L213.6 616.4 L214.2 621.4 L214.9 625.2 L215.5 630.3 L216.2 633.7 L216.9 632.8 L217.5 640.4 L218.2 642.4 L218.8 646.0 L219.5 648.7 L220.1 650.9 L220.8 652.4 L221.4 655.2 L222.0 656.8 L222.6 657.6 L223.2 658.6 L223.7 658.9 L224.3 659.7 L224.8 659.5 L225.4 660.3 L226.0 659.9 L226.7 658.7 L227.4 660.1 L228.0 660.0 L228.7 660.0 L229.3 660.8 L230.0 659.9 L230.6 660.8 L231.3 660.8 L232.0 661.0 L232.6 661.5 L233.2 661.8 L233.8 661.3 L234.5 662.4 L235.1 662.2 L235.7 662.5 L236.3 662.8 L237.0 662.8 L237.6 662.8 L238.3 662.8 L239.0 662.8 L239.6 662.8 L240.3 662.8 L240.9 662.8 L241.6 662.8 L242.2 662.8 L242.9 662.8 Z" fill="#929292"/>
<path d="M188.6 662.8 L189.1 609.5 L189.5 588.1 L189.9 565.8 L190.4 556.8 L190.8 544.9 L191.5 538.4 L192.1 534.7 L192.8 532.0 L193.4 529.6 L194.1 528.6 L194.8 538.2 L195.4 531.1 L196.1 532.0 L196.7 538.1 L197.4 540.7 L198.0 538.4 L198.7 529.6 L199.1 535.9 L199.6 543.0 L200.2 534.2 L200.9 532.6 L201.3 537.3 L201.8 549.7 L202.4 551.7 L203.1 548.4 L203.7 553.5 L204.4 560.7 L205.0 569.5 L205.7 568.8 L206.4 567.4 L207.0 576.8 L207.7 575.4 L208.3 578.7 L209.0 581.8 L209.6 587.1 L210.3 592.6 L210.9 592.8 L211.6 600.8 L212.3 607.1 L212.9 615.7 L213.6 616.4 L214.2 621.4 L214.9 625.2 L215.5 630.3 L216.2 633.7 L216.9 632.8 L217.5 640.4 L218.2 642.4 L218.8 646.0 L219.5 648.7 L220.1 650.9 L220.8 652.4 L221.4 655.2 L222.0 656.8 L222.6 657.6 L223.2 658.6 L223.7 658.9 L224.3 659.7 L224.8 659.5 L225.4 660.3 L226.0 659.9 L226.7 658.7 L227.4 660.1 L228.0 660.0 L228.7 660.0 L229.3 660.8 L230.0 659.9 L230.6 660.8 L231.3 660.8 L232.0 661.0 L232.6 661.5 L233.2 661.8 L233.8 661.3 L234.5 662.4 L235.1 662.2 L235.7 662.5 L236.3 662.8 L237.0 662.8 L237.6 662.8 L238.3 662.8 L239.0 662.8 L239.6 662.8 L240.3 662.8 L240.9 662.8 L241.6 662.8 L242.2 662.8 L242.9 662.8" fill="none" stroke="#fff" stroke-opacity="0.4" stroke-width="3.2" stroke-linejoin="round"/>
<path d="M188.6 662.8 L189.1 609.5 L189.5 588.1 L189.9 565.8 L190.4 556.8 L190.8 544.9 L191.5 538.4 L192.1 534.7 L192.8 532.0 L193.4 529.6 L194.1 528.6 L194.8 538.2 L195.4 531.1 L196.1 532.0 L196.7 538.1 L197.4 540.7 L198.0 538.4 L198.7 529.6 L199.1 535.9 L199.6 543.0 L200.2 534.2 L200.9 532.6 L201.3 537.3 L201.8 549.7 L202.4 551.7 L203.1 548.4 L203.7 553.5 L204.4 560.7 L205.0 569.5 L205.7 568.8 L206.4 567.4 L207.0 576.8 L207.7 575.4 L208.3 578.7 L209.0 581.8 L209.6 587.1 L210.3 592.6 L210.9 592.8 L211.6 600.8 L212.3 607.1 L212.9 615.7 L213.6 616.4 L214.2 621.4 L214.9 625.2 L215.5 630.3 L216.2 633.7 L216.9 632.8 L217.5 640.4 L218.2 642.4 L218.8 646.0 L219.5 648.7 L220.1 650.9 L220.8 652.4 L221.4 655.2 L222.0 656.8 L222.6 657.6 L223.2 658.6 L223.7 658.9 L224.3 659.7 L224.8 659.5 L225.4 660.3 L226.0 659.9 L226.7 658.7 L227.4 660.1 L228.0 660.0 L228.7 660.0 L229.3 660.8 L230.0 659.9 L230.6 660.8 L231.3 660.8 L232.0 661.0 L232.6 661.5 L233.2 661.8 L233.8 661.3 L234.5 662.4 L235.1 662.2 L235.7 662.5 L236.3 662.8 L237.0 662.8 L237.6 662.8 L238.3 662.8 L239.0 662.8 L239.6 662.8 L240.3 662.8 L240.9 662.8 L241.6 662.8 L242.2 662.8 L242.9 662.8" fill="none" stroke="#0c0c0c" stroke-width="1.50" stroke-linejoin="round"/>
<path d="M188.6 662.8 L189.1 622.5 L189.5 586.3 L189.9 573.1 L190.4 558.8 L190.8 555.8 L191.3 536.2 L191.7 532.9 L192.1 545.9 L192.6 549.8 L193.0 552.8 L193.4 552.8 L193.9 539.2 L194.3 533.1 L194.8 532.1 L195.2 533.2 L195.6 540.9 L196.1 549.6 L196.5 550.9 L196.9 529.5 L197.4 535.1 L197.8 535.7 L198.3 545.3 L198.7 554.5 L199.1 558.3 L199.8 564.7 L200.4 552.7 L201.1 558.0 L201.8 557.3 L202.4 543.2 L203.1 555.7 L203.7 552.3 L204.4 563.2 L205.0 568.7 L205.7 566.6 L206.4 585.3 L207.0 580.1 L207.7 584.3 L208.3 586.4 L209.0 590.0 L209.6 592.1 L210.3 594.8 L210.9 588.5 L211.6 595.6 L212.3 598.9 L212.9 610.0 L213.6 612.1 L214.2 617.2 L214.9 618.1 L215.5 626.3 L216.2 629.9 L216.9 633.1 L217.5 636.3 L218.2 640.5 L218.8 643.8 L219.5 645.4 L220.1 647.2 L220.8 646.6 L221.4 650.9 L222.1 654.8 L222.8 656.1 L223.3 654.6 L223.9 656.9 L224.5 657.5 L225.1 658.4 L225.6 658.4 L226.2 659.1 L226.7 660.3 L227.3 660.2 L227.9 661.1 L228.5 658.8 L229.2 658.5 L229.8 659.7 L230.4 660.3 L231.1 659.8 L231.7 659.1 L232.4 661.6 L233.0 660.6 L233.7 662.1 L234.4 661.6 L235.1 661.5 L235.8 661.8 L236.5 662.5 L237.1 662.3 L237.8 662.6 L238.5 662.8" fill="none" stroke="#fff" stroke-opacity="0.4" stroke-width="2.6" stroke-linejoin="round"/>
<path d="M188.6 662.8 L189.1 622.5 L189.5 586.3 L189.9 573.1 L190.4 558.8 L190.8 555.8 L191.3 536.2 L191.7 532.9 L192.1 545.9 L192.6 549.8 L193.0 552.8 L193.4 552.8 L193.9 539.2 L194.3 533.1 L194.8 532.1 L195.2 533.2 L195.6 540.9 L196.1 549.6 L196.5 550.9 L196.9 529.5 L197.4 535.1 L197.8 535.7 L198.3 545.3 L198.7 554.5 L199.1 558.3 L199.8 564.7 L200.4 552.7 L201.1 558.0 L201.8 557.3 L202.4 543.2 L203.1 555.7 L203.7 552.3 L204.4 563.2 L205.0 568.7 L205.7 566.6 L206.4 585.3 L207.0 580.1 L207.7 584.3 L208.3 586.4 L209.0 590.0 L209.6 592.1 L210.3 594.8 L210.9 588.5 L211.6 595.6 L212.3 598.9 L212.9 610.0 L213.6 612.1 L214.2 617.2 L214.9 618.1 L215.5 626.3 L216.2 629.9 L216.9 633.1 L217.5 636.3 L218.2 640.5 L218.8 643.8 L219.5 645.4 L220.1 647.2 L220.8 646.6 L221.4 650.9 L222.1 654.8 L222.8 656.1 L223.3 654.6 L223.9 656.9 L224.5 657.5 L225.1 658.4 L225.6 658.4 L226.2 659.1 L226.7 660.3 L227.3 660.2 L227.9 661.1 L228.5 658.8 L229.2 658.5 L229.8 659.7 L230.4 660.3 L231.1 659.8 L231.7 659.1 L232.4 661.6 L233.0 660.6 L233.7 662.1 L234.4 661.6 L235.1 661.5 L235.8 661.8 L236.5 662.5 L237.1 662.3 L237.8 662.6 L238.5 662.8" fill="none" stroke="#0c0c0c" stroke-width="1.15" stroke-linejoin="round"/>
<path d="M187.5 527.0 V662.8 H315.1" fill="none" stroke="#000" stroke-width="1.3"/>
<path d="M187.5 527.0 h-2M187.5 561.0 h-2M187.5 594.9 h-2M187.5 628.8 h-2" stroke="#111" stroke-width="0.8"/>
<path d="M197.1 663.2 v1.3M202.7 663.2 v1.3M206.7 663.2 v1.3M209.8 663.2 v1.3M212.3 663.2 v1.3M214.5 663.2 v1.3M216.3 663.2 v1.3M217.9 663.2 v1.3M229.0 663.2 v1.3M234.6 663.2 v1.3M238.6 663.2 v1.3M241.7 663.2 v1.3M244.2 663.2 v1.3M246.4 663.2 v1.3M248.2 663.2 v1.3M249.8 663.2 v1.3M260.9 663.2 v1.3M266.5 663.2 v1.3M270.5 663.2 v1.3M273.6 663.2 v1.3M276.1 663.2 v1.3M278.3 663.2 v1.3M280.1 663.2 v1.3M281.7 663.2 v1.3M292.8 663.2 v1.3M298.4 663.2 v1.3M302.4 663.2 v1.3M305.5 663.2 v1.3M308.0 663.2 v1.3M310.2 663.2 v1.3M312.0 663.2 v1.3M313.6 663.2 v1.3M187.5 663.2 v2M219.4 663.2 v2M251.3 663.2 v2M283.2 663.2 v2M315.1 663.2 v2" stroke="#222" stroke-width="0.5"/>
<text x="184.0" y="672.9" class="tk">10<tspan dx="0" dy="-3.4" class="sup">0</tspan></text>
<text x="215.9" y="672.9" class="tk">10<tspan dx="0" dy="-3.4" class="sup">1</tspan></text>
<text x="247.8" y="672.9" class="tk">10<tspan dx="0" dy="-3.4" class="sup">2</tspan></text>
<text x="279.7" y="672.9" class="tk">10<tspan dx="0" dy="-3.4" class="sup">3</tspan></text>
<text x="311.6" y="672.9" class="tk">10<tspan dx="0" dy="-3.4" class="sup">4</tspan></text>
<text x="252.8" y="684.0" class="fl" text-anchor="middle">FL1-H</text>
<text transform="translate(183.5 530.7) rotate(-90)" class="yl">32</text>
<text transform="translate(183.2 664.4) rotate(-90)" class="yl">0</text>
<text transform="translate(176.3 591.5) rotate(-90)" class="ev" text-anchor="middle">Events</text>
<text x="245.95" y="554.8" class="ti">CB26</text>
</g>
<rect x="314.15" y="568.55" width="20.3" height="11" fill="#fff" stroke="#111" stroke-width="1.3"/>
<rect x="314.15" y="597.15" width="20.3" height="11.4" fill="#9a9a9a" stroke="#111" stroke-width="1.3"/>
<text x="336.3" y="579.5" class="lg">: NIH-3T3/TFR-2/4B1</text>
<text x="336.3" y="608.3" class="lg" style="letter-spacing:0.12px">: NIH-3T3 mock</text>
</svg>
</body></html>
